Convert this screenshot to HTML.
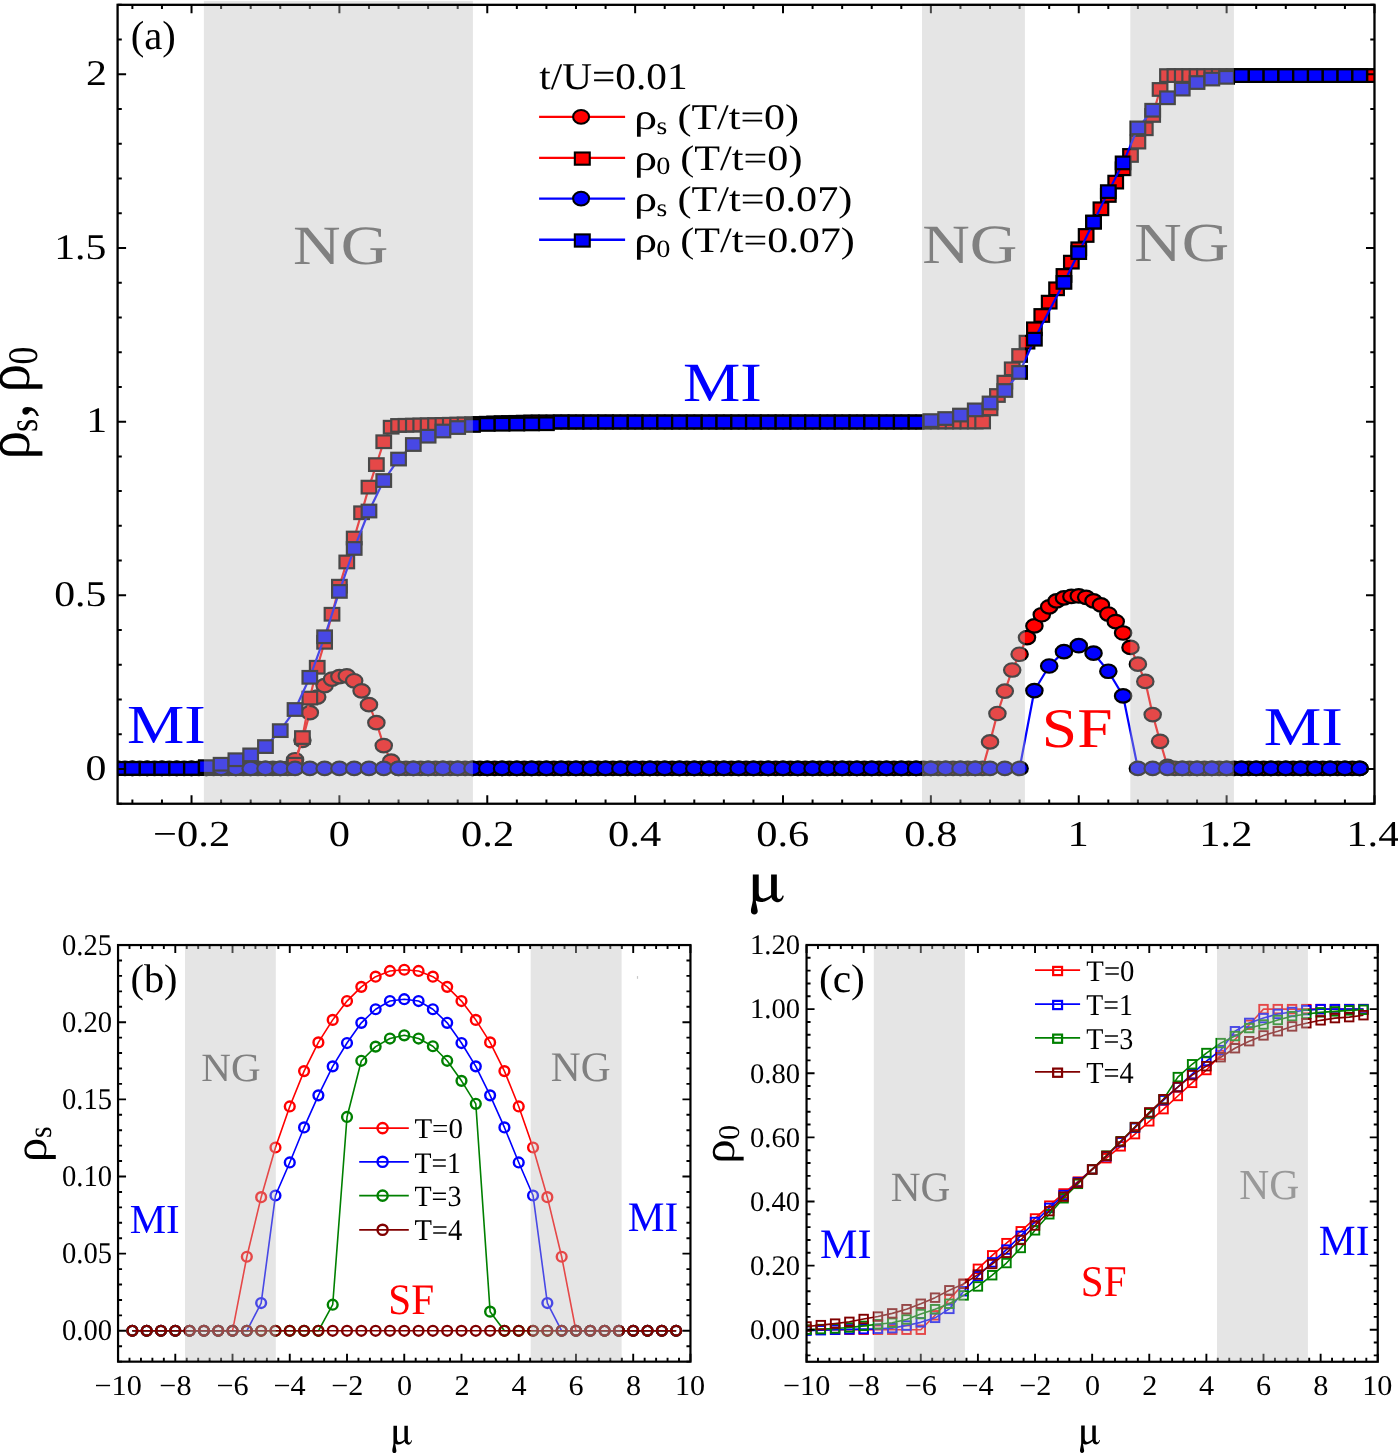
<!DOCTYPE html><html><head><meta charset="utf-8"><style>html,body{margin:0;padding:0;background:#fff;overflow:hidden}svg{display:block;will-change:transform}text{font-family:"Liberation Serif",serif;text-rendering:geometricPrecision}</style></head><body>
<svg width="1398" height="1453" viewBox="0 0 1398 1453">
<rect width="1398" height="1453" fill="#fff"/>
<defs>
<clipPath id="ca"><rect x="117.59" y="4.83" width="1256.89" height="798.91"/></clipPath>
<clipPath id="cb"><rect x="118.05" y="945.05" width="572.40" height="416.61"/></clipPath>
<clipPath id="cc"><rect x="806.55" y="945.00" width="571.20" height="416.78"/></clipPath>
</defs>
<g clip-path="url(#ca)">
<polyline points="117.59,768.40 124.99,768.40 132.38,768.40 139.78,768.40 147.17,768.40 154.56,768.40 161.96,768.40 169.35,768.40 176.74,768.40 184.14,768.40 191.53,768.40 198.92,768.40 206.32,768.40 213.71,768.40 221.10,768.40 228.50,768.40 235.89,768.40 243.28,768.40 250.68,768.40 258.07,768.40 265.46,768.40 272.86,768.40 280.25,768.40 287.65,768.40 295.04,759.74 302.43,740.34 309.83,712.63 317.22,697.04 324.61,685.61 332.01,679.03 339.40,676.60 346.79,675.91 354.19,680.76 361.58,690.81 368.97,704.66 376.37,722.68 383.76,745.54 391.15,761.13 398.55,768.40 405.94,768.40 413.33,768.40 420.73,768.40 428.12,768.40 435.52,768.40 442.91,768.40 450.30,768.40 457.70,768.40 465.09,768.40 472.48,768.40 479.88,768.40 487.27,768.40 494.66,768.40 502.06,768.40 509.45,768.40 516.84,768.40 524.24,768.40 531.63,768.40 539.02,768.40 546.42,768.40 553.81,768.40 561.20,768.40 568.60,768.40 575.99,768.40 583.39,768.40 590.78,768.40 598.17,768.40 605.57,768.40 612.96,768.40 620.35,768.40 627.75,768.40 635.14,768.40 642.53,768.40 649.93,768.40 657.32,768.40 664.71,768.40 672.11,768.40 679.50,768.40 686.89,768.40 694.29,768.40 701.68,768.40 709.08,768.40 716.47,768.40 723.86,768.40 731.26,768.40 738.65,768.40 746.04,768.40 753.44,768.40 760.83,768.40 768.22,768.40 775.62,768.40 783.01,768.40 790.40,768.40 797.80,768.40 805.19,768.40 812.58,768.40 819.98,768.40 827.37,768.40 834.76,768.40 842.16,768.40 849.55,768.40 856.94,768.40 864.34,768.40 871.73,768.40 879.13,768.40 886.52,768.40 893.91,768.40 901.31,768.40 908.70,768.40 916.09,768.40 923.49,768.40 930.88,768.40 938.27,768.40 945.67,768.40 953.06,768.40 960.45,768.40 967.85,768.40 975.24,768.40 982.63,768.40 990.03,741.90 997.42,713.50 1004.82,691.07 1012.21,670.01 1019.60,654.25 1027.00,637.56 1034.39,625.88 1041.78,614.74 1049.18,606.78 1056.57,600.93 1063.96,597.91 1071.36,596.41 1078.75,595.97 1086.14,597.28 1093.54,600.90 1100.93,604.90 1108.32,614.02 1115.72,621.53 1123.11,632.99 1130.50,647.44 1137.90,664.13 1145.29,681.45 1152.68,714.60 1160.08,741.29 1167.47,766.32 1174.87,768.40 1182.26,768.40 1189.65,768.40 1197.05,768.40 1204.44,768.40 1211.83,768.40 1219.23,768.40 1226.62,768.40 1234.01,768.40 1241.41,768.40 1248.80,768.40 1256.19,768.40 1263.59,768.40 1270.98,768.40 1278.37,768.40 1285.77,768.40 1293.16,768.40 1300.56,768.40 1307.95,768.40 1315.34,768.40 1322.74,768.40 1330.13,768.40 1337.52,768.40 1344.92,768.40 1352.31,768.40 1359.70,768.40" fill="none" stroke="#f00" stroke-width="2.2" stroke-linejoin="round"/>
<g fill="#f00" stroke="#000" stroke-width="2.2"><ellipse cx="117.59" cy="768.40" rx="8.2" ry="6.75"/><ellipse cx="124.99" cy="768.40" rx="8.2" ry="6.75"/><ellipse cx="132.38" cy="768.40" rx="8.2" ry="6.75"/><ellipse cx="139.78" cy="768.40" rx="8.2" ry="6.75"/><ellipse cx="147.17" cy="768.40" rx="8.2" ry="6.75"/><ellipse cx="154.56" cy="768.40" rx="8.2" ry="6.75"/><ellipse cx="161.96" cy="768.40" rx="8.2" ry="6.75"/><ellipse cx="169.35" cy="768.40" rx="8.2" ry="6.75"/><ellipse cx="176.74" cy="768.40" rx="8.2" ry="6.75"/><ellipse cx="184.14" cy="768.40" rx="8.2" ry="6.75"/><ellipse cx="191.53" cy="768.40" rx="8.2" ry="6.75"/><ellipse cx="198.92" cy="768.40" rx="8.2" ry="6.75"/><ellipse cx="206.32" cy="768.40" rx="8.2" ry="6.75"/><ellipse cx="213.71" cy="768.40" rx="8.2" ry="6.75"/><ellipse cx="221.10" cy="768.40" rx="8.2" ry="6.75"/><ellipse cx="228.50" cy="768.40" rx="8.2" ry="6.75"/><ellipse cx="235.89" cy="768.40" rx="8.2" ry="6.75"/><ellipse cx="243.28" cy="768.40" rx="8.2" ry="6.75"/><ellipse cx="250.68" cy="768.40" rx="8.2" ry="6.75"/><ellipse cx="258.07" cy="768.40" rx="8.2" ry="6.75"/><ellipse cx="265.46" cy="768.40" rx="8.2" ry="6.75"/><ellipse cx="272.86" cy="768.40" rx="8.2" ry="6.75"/><ellipse cx="280.25" cy="768.40" rx="8.2" ry="6.75"/><ellipse cx="287.65" cy="768.40" rx="8.2" ry="6.75"/><ellipse cx="295.04" cy="759.74" rx="8.2" ry="6.75"/><ellipse cx="302.43" cy="740.34" rx="8.2" ry="6.75"/><ellipse cx="309.83" cy="712.63" rx="8.2" ry="6.75"/><ellipse cx="317.22" cy="697.04" rx="8.2" ry="6.75"/><ellipse cx="324.61" cy="685.61" rx="8.2" ry="6.75"/><ellipse cx="332.01" cy="679.03" rx="8.2" ry="6.75"/><ellipse cx="339.40" cy="676.60" rx="8.2" ry="6.75"/><ellipse cx="346.79" cy="675.91" rx="8.2" ry="6.75"/><ellipse cx="354.19" cy="680.76" rx="8.2" ry="6.75"/><ellipse cx="361.58" cy="690.81" rx="8.2" ry="6.75"/><ellipse cx="368.97" cy="704.66" rx="8.2" ry="6.75"/><ellipse cx="376.37" cy="722.68" rx="8.2" ry="6.75"/><ellipse cx="383.76" cy="745.54" rx="8.2" ry="6.75"/><ellipse cx="391.15" cy="761.13" rx="8.2" ry="6.75"/><ellipse cx="398.55" cy="768.40" rx="8.2" ry="6.75"/><ellipse cx="405.94" cy="768.40" rx="8.2" ry="6.75"/><ellipse cx="413.33" cy="768.40" rx="8.2" ry="6.75"/><ellipse cx="420.73" cy="768.40" rx="8.2" ry="6.75"/><ellipse cx="428.12" cy="768.40" rx="8.2" ry="6.75"/><ellipse cx="435.52" cy="768.40" rx="8.2" ry="6.75"/><ellipse cx="442.91" cy="768.40" rx="8.2" ry="6.75"/><ellipse cx="450.30" cy="768.40" rx="8.2" ry="6.75"/><ellipse cx="457.70" cy="768.40" rx="8.2" ry="6.75"/><ellipse cx="465.09" cy="768.40" rx="8.2" ry="6.75"/><ellipse cx="472.48" cy="768.40" rx="8.2" ry="6.75"/><ellipse cx="479.88" cy="768.40" rx="8.2" ry="6.75"/><ellipse cx="487.27" cy="768.40" rx="8.2" ry="6.75"/><ellipse cx="494.66" cy="768.40" rx="8.2" ry="6.75"/><ellipse cx="502.06" cy="768.40" rx="8.2" ry="6.75"/><ellipse cx="509.45" cy="768.40" rx="8.2" ry="6.75"/><ellipse cx="516.84" cy="768.40" rx="8.2" ry="6.75"/><ellipse cx="524.24" cy="768.40" rx="8.2" ry="6.75"/><ellipse cx="531.63" cy="768.40" rx="8.2" ry="6.75"/><ellipse cx="539.02" cy="768.40" rx="8.2" ry="6.75"/><ellipse cx="546.42" cy="768.40" rx="8.2" ry="6.75"/><ellipse cx="553.81" cy="768.40" rx="8.2" ry="6.75"/><ellipse cx="561.20" cy="768.40" rx="8.2" ry="6.75"/><ellipse cx="568.60" cy="768.40" rx="8.2" ry="6.75"/><ellipse cx="575.99" cy="768.40" rx="8.2" ry="6.75"/><ellipse cx="583.39" cy="768.40" rx="8.2" ry="6.75"/><ellipse cx="590.78" cy="768.40" rx="8.2" ry="6.75"/><ellipse cx="598.17" cy="768.40" rx="8.2" ry="6.75"/><ellipse cx="605.57" cy="768.40" rx="8.2" ry="6.75"/><ellipse cx="612.96" cy="768.40" rx="8.2" ry="6.75"/><ellipse cx="620.35" cy="768.40" rx="8.2" ry="6.75"/><ellipse cx="627.75" cy="768.40" rx="8.2" ry="6.75"/><ellipse cx="635.14" cy="768.40" rx="8.2" ry="6.75"/><ellipse cx="642.53" cy="768.40" rx="8.2" ry="6.75"/><ellipse cx="649.93" cy="768.40" rx="8.2" ry="6.75"/><ellipse cx="657.32" cy="768.40" rx="8.2" ry="6.75"/><ellipse cx="664.71" cy="768.40" rx="8.2" ry="6.75"/><ellipse cx="672.11" cy="768.40" rx="8.2" ry="6.75"/><ellipse cx="679.50" cy="768.40" rx="8.2" ry="6.75"/><ellipse cx="686.89" cy="768.40" rx="8.2" ry="6.75"/><ellipse cx="694.29" cy="768.40" rx="8.2" ry="6.75"/><ellipse cx="701.68" cy="768.40" rx="8.2" ry="6.75"/><ellipse cx="709.08" cy="768.40" rx="8.2" ry="6.75"/><ellipse cx="716.47" cy="768.40" rx="8.2" ry="6.75"/><ellipse cx="723.86" cy="768.40" rx="8.2" ry="6.75"/><ellipse cx="731.26" cy="768.40" rx="8.2" ry="6.75"/><ellipse cx="738.65" cy="768.40" rx="8.2" ry="6.75"/><ellipse cx="746.04" cy="768.40" rx="8.2" ry="6.75"/><ellipse cx="753.44" cy="768.40" rx="8.2" ry="6.75"/><ellipse cx="760.83" cy="768.40" rx="8.2" ry="6.75"/><ellipse cx="768.22" cy="768.40" rx="8.2" ry="6.75"/><ellipse cx="775.62" cy="768.40" rx="8.2" ry="6.75"/><ellipse cx="783.01" cy="768.40" rx="8.2" ry="6.75"/><ellipse cx="790.40" cy="768.40" rx="8.2" ry="6.75"/><ellipse cx="797.80" cy="768.40" rx="8.2" ry="6.75"/><ellipse cx="805.19" cy="768.40" rx="8.2" ry="6.75"/><ellipse cx="812.58" cy="768.40" rx="8.2" ry="6.75"/><ellipse cx="819.98" cy="768.40" rx="8.2" ry="6.75"/><ellipse cx="827.37" cy="768.40" rx="8.2" ry="6.75"/><ellipse cx="834.76" cy="768.40" rx="8.2" ry="6.75"/><ellipse cx="842.16" cy="768.40" rx="8.2" ry="6.75"/><ellipse cx="849.55" cy="768.40" rx="8.2" ry="6.75"/><ellipse cx="856.94" cy="768.40" rx="8.2" ry="6.75"/><ellipse cx="864.34" cy="768.40" rx="8.2" ry="6.75"/><ellipse cx="871.73" cy="768.40" rx="8.2" ry="6.75"/><ellipse cx="879.13" cy="768.40" rx="8.2" ry="6.75"/><ellipse cx="886.52" cy="768.40" rx="8.2" ry="6.75"/><ellipse cx="893.91" cy="768.40" rx="8.2" ry="6.75"/><ellipse cx="901.31" cy="768.40" rx="8.2" ry="6.75"/><ellipse cx="908.70" cy="768.40" rx="8.2" ry="6.75"/><ellipse cx="916.09" cy="768.40" rx="8.2" ry="6.75"/><ellipse cx="923.49" cy="768.40" rx="8.2" ry="6.75"/><ellipse cx="930.88" cy="768.40" rx="8.2" ry="6.75"/><ellipse cx="938.27" cy="768.40" rx="8.2" ry="6.75"/><ellipse cx="945.67" cy="768.40" rx="8.2" ry="6.75"/><ellipse cx="953.06" cy="768.40" rx="8.2" ry="6.75"/><ellipse cx="960.45" cy="768.40" rx="8.2" ry="6.75"/><ellipse cx="967.85" cy="768.40" rx="8.2" ry="6.75"/><ellipse cx="975.24" cy="768.40" rx="8.2" ry="6.75"/><ellipse cx="982.63" cy="768.40" rx="8.2" ry="6.75"/><ellipse cx="990.03" cy="741.90" rx="8.2" ry="6.75"/><ellipse cx="997.42" cy="713.50" rx="8.2" ry="6.75"/><ellipse cx="1004.82" cy="691.07" rx="8.2" ry="6.75"/><ellipse cx="1012.21" cy="670.01" rx="8.2" ry="6.75"/><ellipse cx="1019.60" cy="654.25" rx="8.2" ry="6.75"/><ellipse cx="1027.00" cy="637.56" rx="8.2" ry="6.75"/><ellipse cx="1034.39" cy="625.88" rx="8.2" ry="6.75"/><ellipse cx="1041.78" cy="614.74" rx="8.2" ry="6.75"/><ellipse cx="1049.18" cy="606.78" rx="8.2" ry="6.75"/><ellipse cx="1056.57" cy="600.93" rx="8.2" ry="6.75"/><ellipse cx="1063.96" cy="597.91" rx="8.2" ry="6.75"/><ellipse cx="1071.36" cy="596.41" rx="8.2" ry="6.75"/><ellipse cx="1078.75" cy="595.97" rx="8.2" ry="6.75"/><ellipse cx="1086.14" cy="597.28" rx="8.2" ry="6.75"/><ellipse cx="1093.54" cy="600.90" rx="8.2" ry="6.75"/><ellipse cx="1100.93" cy="604.90" rx="8.2" ry="6.75"/><ellipse cx="1108.32" cy="614.02" rx="8.2" ry="6.75"/><ellipse cx="1115.72" cy="621.53" rx="8.2" ry="6.75"/><ellipse cx="1123.11" cy="632.99" rx="8.2" ry="6.75"/><ellipse cx="1130.50" cy="647.44" rx="8.2" ry="6.75"/><ellipse cx="1137.90" cy="664.13" rx="8.2" ry="6.75"/><ellipse cx="1145.29" cy="681.45" rx="8.2" ry="6.75"/><ellipse cx="1152.68" cy="714.60" rx="8.2" ry="6.75"/><ellipse cx="1160.08" cy="741.29" rx="8.2" ry="6.75"/><ellipse cx="1167.47" cy="766.32" rx="8.2" ry="6.75"/><ellipse cx="1174.87" cy="768.40" rx="8.2" ry="6.75"/><ellipse cx="1182.26" cy="768.40" rx="8.2" ry="6.75"/><ellipse cx="1189.65" cy="768.40" rx="8.2" ry="6.75"/><ellipse cx="1197.05" cy="768.40" rx="8.2" ry="6.75"/><ellipse cx="1204.44" cy="768.40" rx="8.2" ry="6.75"/><ellipse cx="1211.83" cy="768.40" rx="8.2" ry="6.75"/><ellipse cx="1219.23" cy="768.40" rx="8.2" ry="6.75"/><ellipse cx="1226.62" cy="768.40" rx="8.2" ry="6.75"/><ellipse cx="1234.01" cy="768.40" rx="8.2" ry="6.75"/><ellipse cx="1241.41" cy="768.40" rx="8.2" ry="6.75"/><ellipse cx="1248.80" cy="768.40" rx="8.2" ry="6.75"/><ellipse cx="1256.19" cy="768.40" rx="8.2" ry="6.75"/><ellipse cx="1263.59" cy="768.40" rx="8.2" ry="6.75"/><ellipse cx="1270.98" cy="768.40" rx="8.2" ry="6.75"/><ellipse cx="1278.37" cy="768.40" rx="8.2" ry="6.75"/><ellipse cx="1285.77" cy="768.40" rx="8.2" ry="6.75"/><ellipse cx="1293.16" cy="768.40" rx="8.2" ry="6.75"/><ellipse cx="1300.56" cy="768.40" rx="8.2" ry="6.75"/><ellipse cx="1307.95" cy="768.40" rx="8.2" ry="6.75"/><ellipse cx="1315.34" cy="768.40" rx="8.2" ry="6.75"/><ellipse cx="1322.74" cy="768.40" rx="8.2" ry="6.75"/><ellipse cx="1330.13" cy="768.40" rx="8.2" ry="6.75"/><ellipse cx="1337.52" cy="768.40" rx="8.2" ry="6.75"/><ellipse cx="1344.92" cy="768.40" rx="8.2" ry="6.75"/><ellipse cx="1352.31" cy="768.40" rx="8.2" ry="6.75"/><ellipse cx="1359.70" cy="768.40" rx="8.2" ry="6.75"/></g>
<polyline points="117.59,768.40 124.99,768.40 132.38,768.40 139.78,768.40 147.17,768.40 154.56,768.40 161.96,768.40 169.35,768.40 176.74,768.40 184.14,768.40 191.53,768.40 198.92,768.40 206.32,768.40 213.71,768.40 221.10,768.40 228.50,768.40 235.89,768.40 243.28,768.40 250.68,768.40 258.07,768.40 265.46,768.40 272.86,768.40 280.25,768.40 287.65,768.40 295.04,764.24 302.43,737.57 309.83,698.08 317.22,667.25 324.61,642.31 332.01,614.25 339.40,586.19 346.79,561.95 354.19,538.04 361.58,512.76 368.97,487.12 376.37,464.61 383.76,441.74 391.15,427.20 398.55,425.46 405.94,425.29 413.33,425.12 420.73,424.94 428.12,424.77 435.52,424.60 442.91,424.42 450.30,424.25 457.70,424.08 465.09,423.91 472.48,423.73 479.88,423.47 487.27,423.21 494.66,422.95 502.06,422.69 509.45,422.52 516.84,422.35 524.24,422.17 531.63,422.00 539.02,422.00 546.42,422.00 553.81,422.00 561.20,422.00 568.60,422.00 575.99,422.00 583.39,422.00 590.78,422.00 598.17,422.00 605.57,422.00 612.96,422.00 620.35,422.00 627.75,422.00 635.14,422.00 642.53,422.00 649.93,422.00 657.32,422.00 664.71,422.00 672.11,422.00 679.50,422.00 686.89,422.00 694.29,422.00 701.68,422.00 709.08,422.00 716.47,422.00 723.86,422.00 731.26,422.00 738.65,422.00 746.04,422.00 753.44,422.00 760.83,422.00 768.22,422.00 775.62,422.00 783.01,422.00 790.40,422.00 797.80,422.00 805.19,422.00 812.58,422.00 819.98,422.00 827.37,422.00 834.76,422.00 842.16,422.00 849.55,422.00 856.94,422.00 864.34,422.00 871.73,422.00 879.13,422.00 886.52,422.00 893.91,422.00 901.31,422.00 908.70,422.00 916.09,422.00 923.49,422.00 930.88,422.00 938.27,422.00 945.67,422.00 953.06,422.00 960.45,422.00 967.85,422.00 975.24,422.00 982.63,422.00 990.03,408.84 997.42,395.50 1004.82,382.16 1012.21,368.83 1019.60,355.49 1027.00,342.15 1034.39,328.82 1041.78,315.48 1049.18,302.15 1056.57,288.81 1063.96,275.47 1071.36,262.14 1078.75,248.80 1086.14,235.46 1093.54,222.13 1100.93,208.79 1108.32,195.45 1115.72,182.12 1123.11,168.78 1130.50,155.45 1137.90,142.11 1145.29,128.77 1152.68,115.44 1160.08,89.46 1167.47,75.60 1174.87,75.60 1182.26,75.60 1189.65,75.60 1197.05,75.60 1204.44,75.60 1211.83,75.60 1219.23,75.60 1226.62,75.60 1234.01,75.60 1241.41,75.60 1248.80,75.60 1256.19,75.60 1263.59,75.60 1270.98,75.60 1278.37,75.60 1285.77,75.60 1293.16,75.60 1300.56,75.60 1307.95,75.60 1315.34,75.60 1322.74,75.60 1330.13,75.60 1337.52,75.60 1344.92,75.60 1352.31,75.60 1359.70,75.60 1367.10,75.60 1374.49,75.60" fill="none" stroke="#f00" stroke-width="2.2" stroke-linejoin="round"/>
<g fill="#f00" stroke="#000" stroke-width="2.2"><rect x="110.29" y="762.10" width="14.6" height="12.6"/><rect x="117.69" y="762.10" width="14.6" height="12.6"/><rect x="125.08" y="762.10" width="14.6" height="12.6"/><rect x="132.48" y="762.10" width="14.6" height="12.6"/><rect x="139.87" y="762.10" width="14.6" height="12.6"/><rect x="147.26" y="762.10" width="14.6" height="12.6"/><rect x="154.66" y="762.10" width="14.6" height="12.6"/><rect x="162.05" y="762.10" width="14.6" height="12.6"/><rect x="169.44" y="762.10" width="14.6" height="12.6"/><rect x="176.84" y="762.10" width="14.6" height="12.6"/><rect x="184.23" y="762.10" width="14.6" height="12.6"/><rect x="191.62" y="762.10" width="14.6" height="12.6"/><rect x="199.02" y="762.10" width="14.6" height="12.6"/><rect x="206.41" y="762.10" width="14.6" height="12.6"/><rect x="213.80" y="762.10" width="14.6" height="12.6"/><rect x="221.20" y="762.10" width="14.6" height="12.6"/><rect x="228.59" y="762.10" width="14.6" height="12.6"/><rect x="235.98" y="762.10" width="14.6" height="12.6"/><rect x="243.38" y="762.10" width="14.6" height="12.6"/><rect x="250.77" y="762.10" width="14.6" height="12.6"/><rect x="258.16" y="762.10" width="14.6" height="12.6"/><rect x="265.56" y="762.10" width="14.6" height="12.6"/><rect x="272.95" y="762.10" width="14.6" height="12.6"/><rect x="280.35" y="762.10" width="14.6" height="12.6"/><rect x="287.74" y="757.94" width="14.6" height="12.6"/><rect x="295.13" y="731.27" width="14.6" height="12.6"/><rect x="302.53" y="691.78" width="14.6" height="12.6"/><rect x="309.92" y="660.95" width="14.6" height="12.6"/><rect x="317.31" y="636.01" width="14.6" height="12.6"/><rect x="324.71" y="607.95" width="14.6" height="12.6"/><rect x="332.10" y="579.89" width="14.6" height="12.6"/><rect x="339.49" y="555.65" width="14.6" height="12.6"/><rect x="346.89" y="531.74" width="14.6" height="12.6"/><rect x="354.28" y="506.46" width="14.6" height="12.6"/><rect x="361.67" y="480.82" width="14.6" height="12.6"/><rect x="369.07" y="458.31" width="14.6" height="12.6"/><rect x="376.46" y="435.44" width="14.6" height="12.6"/><rect x="383.85" y="420.90" width="14.6" height="12.6"/><rect x="391.25" y="419.16" width="14.6" height="12.6"/><rect x="398.64" y="418.99" width="14.6" height="12.6"/><rect x="406.03" y="418.82" width="14.6" height="12.6"/><rect x="413.43" y="418.64" width="14.6" height="12.6"/><rect x="420.82" y="418.47" width="14.6" height="12.6"/><rect x="428.22" y="418.30" width="14.6" height="12.6"/><rect x="435.61" y="418.12" width="14.6" height="12.6"/><rect x="443.00" y="417.95" width="14.6" height="12.6"/><rect x="450.40" y="417.78" width="14.6" height="12.6"/><rect x="457.79" y="417.61" width="14.6" height="12.6"/><rect x="465.18" y="417.43" width="14.6" height="12.6"/><rect x="472.58" y="417.17" width="14.6" height="12.6"/><rect x="479.97" y="416.91" width="14.6" height="12.6"/><rect x="487.36" y="416.65" width="14.6" height="12.6"/><rect x="494.76" y="416.39" width="14.6" height="12.6"/><rect x="502.15" y="416.22" width="14.6" height="12.6"/><rect x="509.54" y="416.05" width="14.6" height="12.6"/><rect x="516.94" y="415.87" width="14.6" height="12.6"/><rect x="524.33" y="415.70" width="14.6" height="12.6"/><rect x="531.72" y="415.70" width="14.6" height="12.6"/><rect x="539.12" y="415.70" width="14.6" height="12.6"/><rect x="546.51" y="415.70" width="14.6" height="12.6"/><rect x="553.90" y="415.70" width="14.6" height="12.6"/><rect x="561.30" y="415.70" width="14.6" height="12.6"/><rect x="568.69" y="415.70" width="14.6" height="12.6"/><rect x="576.09" y="415.70" width="14.6" height="12.6"/><rect x="583.48" y="415.70" width="14.6" height="12.6"/><rect x="590.87" y="415.70" width="14.6" height="12.6"/><rect x="598.27" y="415.70" width="14.6" height="12.6"/><rect x="605.66" y="415.70" width="14.6" height="12.6"/><rect x="613.05" y="415.70" width="14.6" height="12.6"/><rect x="620.45" y="415.70" width="14.6" height="12.6"/><rect x="627.84" y="415.70" width="14.6" height="12.6"/><rect x="635.23" y="415.70" width="14.6" height="12.6"/><rect x="642.63" y="415.70" width="14.6" height="12.6"/><rect x="650.02" y="415.70" width="14.6" height="12.6"/><rect x="657.41" y="415.70" width="14.6" height="12.6"/><rect x="664.81" y="415.70" width="14.6" height="12.6"/><rect x="672.20" y="415.70" width="14.6" height="12.6"/><rect x="679.59" y="415.70" width="14.6" height="12.6"/><rect x="686.99" y="415.70" width="14.6" height="12.6"/><rect x="694.38" y="415.70" width="14.6" height="12.6"/><rect x="701.78" y="415.70" width="14.6" height="12.6"/><rect x="709.17" y="415.70" width="14.6" height="12.6"/><rect x="716.56" y="415.70" width="14.6" height="12.6"/><rect x="723.96" y="415.70" width="14.6" height="12.6"/><rect x="731.35" y="415.70" width="14.6" height="12.6"/><rect x="738.74" y="415.70" width="14.6" height="12.6"/><rect x="746.14" y="415.70" width="14.6" height="12.6"/><rect x="753.53" y="415.70" width="14.6" height="12.6"/><rect x="760.92" y="415.70" width="14.6" height="12.6"/><rect x="768.32" y="415.70" width="14.6" height="12.6"/><rect x="775.71" y="415.70" width="14.6" height="12.6"/><rect x="783.10" y="415.70" width="14.6" height="12.6"/><rect x="790.50" y="415.70" width="14.6" height="12.6"/><rect x="797.89" y="415.70" width="14.6" height="12.6"/><rect x="805.28" y="415.70" width="14.6" height="12.6"/><rect x="812.68" y="415.70" width="14.6" height="12.6"/><rect x="820.07" y="415.70" width="14.6" height="12.6"/><rect x="827.46" y="415.70" width="14.6" height="12.6"/><rect x="834.86" y="415.70" width="14.6" height="12.6"/><rect x="842.25" y="415.70" width="14.6" height="12.6"/><rect x="849.64" y="415.70" width="14.6" height="12.6"/><rect x="857.04" y="415.70" width="14.6" height="12.6"/><rect x="864.43" y="415.70" width="14.6" height="12.6"/><rect x="871.83" y="415.70" width="14.6" height="12.6"/><rect x="879.22" y="415.70" width="14.6" height="12.6"/><rect x="886.61" y="415.70" width="14.6" height="12.6"/><rect x="894.01" y="415.70" width="14.6" height="12.6"/><rect x="901.40" y="415.70" width="14.6" height="12.6"/><rect x="908.79" y="415.70" width="14.6" height="12.6"/><rect x="916.19" y="415.70" width="14.6" height="12.6"/><rect x="923.58" y="415.70" width="14.6" height="12.6"/><rect x="930.97" y="415.70" width="14.6" height="12.6"/><rect x="938.37" y="415.70" width="14.6" height="12.6"/><rect x="945.76" y="415.70" width="14.6" height="12.6"/><rect x="953.15" y="415.70" width="14.6" height="12.6"/><rect x="960.55" y="415.70" width="14.6" height="12.6"/><rect x="967.94" y="415.70" width="14.6" height="12.6"/><rect x="975.33" y="415.70" width="14.6" height="12.6"/><rect x="982.73" y="402.54" width="14.6" height="12.6"/><rect x="990.12" y="389.20" width="14.6" height="12.6"/><rect x="997.52" y="375.86" width="14.6" height="12.6"/><rect x="1004.91" y="362.53" width="14.6" height="12.6"/><rect x="1012.30" y="349.19" width="14.6" height="12.6"/><rect x="1019.70" y="335.85" width="14.6" height="12.6"/><rect x="1027.09" y="322.52" width="14.6" height="12.6"/><rect x="1034.48" y="309.18" width="14.6" height="12.6"/><rect x="1041.88" y="295.85" width="14.6" height="12.6"/><rect x="1049.27" y="282.51" width="14.6" height="12.6"/><rect x="1056.66" y="269.17" width="14.6" height="12.6"/><rect x="1064.06" y="255.84" width="14.6" height="12.6"/><rect x="1071.45" y="242.50" width="14.6" height="12.6"/><rect x="1078.84" y="229.16" width="14.6" height="12.6"/><rect x="1086.24" y="215.83" width="14.6" height="12.6"/><rect x="1093.63" y="202.49" width="14.6" height="12.6"/><rect x="1101.02" y="189.15" width="14.6" height="12.6"/><rect x="1108.42" y="175.82" width="14.6" height="12.6"/><rect x="1115.81" y="162.48" width="14.6" height="12.6"/><rect x="1123.20" y="149.15" width="14.6" height="12.6"/><rect x="1130.60" y="135.81" width="14.6" height="12.6"/><rect x="1137.99" y="122.47" width="14.6" height="12.6"/><rect x="1145.38" y="109.14" width="14.6" height="12.6"/><rect x="1152.78" y="83.16" width="14.6" height="12.6"/><rect x="1160.17" y="69.30" width="14.6" height="12.6"/><rect x="1167.57" y="69.30" width="14.6" height="12.6"/><rect x="1174.96" y="69.30" width="14.6" height="12.6"/><rect x="1182.35" y="69.30" width="14.6" height="12.6"/><rect x="1189.75" y="69.30" width="14.6" height="12.6"/><rect x="1197.14" y="69.30" width="14.6" height="12.6"/><rect x="1204.53" y="69.30" width="14.6" height="12.6"/><rect x="1211.93" y="69.30" width="14.6" height="12.6"/><rect x="1219.32" y="69.30" width="14.6" height="12.6"/><rect x="1226.71" y="69.30" width="14.6" height="12.6"/><rect x="1234.11" y="69.30" width="14.6" height="12.6"/><rect x="1241.50" y="69.30" width="14.6" height="12.6"/><rect x="1248.89" y="69.30" width="14.6" height="12.6"/><rect x="1256.29" y="69.30" width="14.6" height="12.6"/><rect x="1263.68" y="69.30" width="14.6" height="12.6"/><rect x="1271.07" y="69.30" width="14.6" height="12.6"/><rect x="1278.47" y="69.30" width="14.6" height="12.6"/><rect x="1285.86" y="69.30" width="14.6" height="12.6"/><rect x="1293.26" y="69.30" width="14.6" height="12.6"/><rect x="1300.65" y="69.30" width="14.6" height="12.6"/><rect x="1308.04" y="69.30" width="14.6" height="12.6"/><rect x="1315.44" y="69.30" width="14.6" height="12.6"/><rect x="1322.83" y="69.30" width="14.6" height="12.6"/><rect x="1330.22" y="69.30" width="14.6" height="12.6"/><rect x="1337.62" y="69.30" width="14.6" height="12.6"/><rect x="1345.01" y="69.30" width="14.6" height="12.6"/><rect x="1352.40" y="69.30" width="14.6" height="12.6"/><rect x="1359.80" y="69.30" width="14.6" height="12.6"/><rect x="1367.19" y="69.30" width="14.6" height="12.6"/></g>
<polyline points="117.59,768.40 132.38,768.40 147.17,768.40 161.96,768.40 176.74,768.40 191.53,768.40 206.32,768.40 221.10,768.40 235.89,768.40 250.68,768.40 265.46,768.40 280.25,768.40 295.04,768.40 309.83,768.40 324.61,768.40 339.40,768.40 354.19,768.40 368.97,768.40 383.76,768.40 398.55,768.40 413.33,768.40 428.12,768.40 442.91,768.40 457.70,768.40 472.48,768.40 487.27,768.40 502.06,768.40 516.84,768.40 531.63,768.40 546.42,768.40 561.20,768.40 575.99,768.40 590.78,768.40 605.57,768.40 620.35,768.40 635.14,768.40 649.93,768.40 664.71,768.40 679.50,768.40 694.29,768.40 709.08,768.40 723.86,768.40 738.65,768.40 753.44,768.40 768.22,768.40 783.01,768.40 797.80,768.40 812.58,768.40 827.37,768.40 842.16,768.40 856.94,768.40 871.73,768.40 886.52,768.40 901.31,768.40 916.09,768.40 930.88,768.40 945.67,768.40 960.45,768.40 975.24,768.40 990.03,768.40 1004.82,768.40 1019.60,768.40 1034.39,690.53 1049.18,666.00 1063.96,651.66 1078.75,645.71 1093.54,653.15 1108.32,671.27 1123.11,695.93 1137.90,768.40 1152.68,768.40 1167.47,768.40 1182.26,768.40 1197.05,768.40 1211.83,768.40 1226.62,768.40 1241.41,768.40 1256.19,768.40 1270.98,768.40 1285.77,768.40 1300.56,768.40 1315.34,768.40 1330.13,768.40 1344.92,768.40 1359.70,768.40" fill="none" stroke="#00f" stroke-width="2.2" stroke-linejoin="round"/>
<g fill="#00f" stroke="#000" stroke-width="2.2"><ellipse cx="117.59" cy="768.40" rx="8.2" ry="6.75"/><ellipse cx="132.38" cy="768.40" rx="8.2" ry="6.75"/><ellipse cx="147.17" cy="768.40" rx="8.2" ry="6.75"/><ellipse cx="161.96" cy="768.40" rx="8.2" ry="6.75"/><ellipse cx="176.74" cy="768.40" rx="8.2" ry="6.75"/><ellipse cx="191.53" cy="768.40" rx="8.2" ry="6.75"/><ellipse cx="206.32" cy="768.40" rx="8.2" ry="6.75"/><ellipse cx="221.10" cy="768.40" rx="8.2" ry="6.75"/><ellipse cx="235.89" cy="768.40" rx="8.2" ry="6.75"/><ellipse cx="250.68" cy="768.40" rx="8.2" ry="6.75"/><ellipse cx="265.46" cy="768.40" rx="8.2" ry="6.75"/><ellipse cx="280.25" cy="768.40" rx="8.2" ry="6.75"/><ellipse cx="295.04" cy="768.40" rx="8.2" ry="6.75"/><ellipse cx="309.83" cy="768.40" rx="8.2" ry="6.75"/><ellipse cx="324.61" cy="768.40" rx="8.2" ry="6.75"/><ellipse cx="339.40" cy="768.40" rx="8.2" ry="6.75"/><ellipse cx="354.19" cy="768.40" rx="8.2" ry="6.75"/><ellipse cx="368.97" cy="768.40" rx="8.2" ry="6.75"/><ellipse cx="383.76" cy="768.40" rx="8.2" ry="6.75"/><ellipse cx="398.55" cy="768.40" rx="8.2" ry="6.75"/><ellipse cx="413.33" cy="768.40" rx="8.2" ry="6.75"/><ellipse cx="428.12" cy="768.40" rx="8.2" ry="6.75"/><ellipse cx="442.91" cy="768.40" rx="8.2" ry="6.75"/><ellipse cx="457.70" cy="768.40" rx="8.2" ry="6.75"/><ellipse cx="472.48" cy="768.40" rx="8.2" ry="6.75"/><ellipse cx="487.27" cy="768.40" rx="8.2" ry="6.75"/><ellipse cx="502.06" cy="768.40" rx="8.2" ry="6.75"/><ellipse cx="516.84" cy="768.40" rx="8.2" ry="6.75"/><ellipse cx="531.63" cy="768.40" rx="8.2" ry="6.75"/><ellipse cx="546.42" cy="768.40" rx="8.2" ry="6.75"/><ellipse cx="561.20" cy="768.40" rx="8.2" ry="6.75"/><ellipse cx="575.99" cy="768.40" rx="8.2" ry="6.75"/><ellipse cx="590.78" cy="768.40" rx="8.2" ry="6.75"/><ellipse cx="605.57" cy="768.40" rx="8.2" ry="6.75"/><ellipse cx="620.35" cy="768.40" rx="8.2" ry="6.75"/><ellipse cx="635.14" cy="768.40" rx="8.2" ry="6.75"/><ellipse cx="649.93" cy="768.40" rx="8.2" ry="6.75"/><ellipse cx="664.71" cy="768.40" rx="8.2" ry="6.75"/><ellipse cx="679.50" cy="768.40" rx="8.2" ry="6.75"/><ellipse cx="694.29" cy="768.40" rx="8.2" ry="6.75"/><ellipse cx="709.08" cy="768.40" rx="8.2" ry="6.75"/><ellipse cx="723.86" cy="768.40" rx="8.2" ry="6.75"/><ellipse cx="738.65" cy="768.40" rx="8.2" ry="6.75"/><ellipse cx="753.44" cy="768.40" rx="8.2" ry="6.75"/><ellipse cx="768.22" cy="768.40" rx="8.2" ry="6.75"/><ellipse cx="783.01" cy="768.40" rx="8.2" ry="6.75"/><ellipse cx="797.80" cy="768.40" rx="8.2" ry="6.75"/><ellipse cx="812.58" cy="768.40" rx="8.2" ry="6.75"/><ellipse cx="827.37" cy="768.40" rx="8.2" ry="6.75"/><ellipse cx="842.16" cy="768.40" rx="8.2" ry="6.75"/><ellipse cx="856.94" cy="768.40" rx="8.2" ry="6.75"/><ellipse cx="871.73" cy="768.40" rx="8.2" ry="6.75"/><ellipse cx="886.52" cy="768.40" rx="8.2" ry="6.75"/><ellipse cx="901.31" cy="768.40" rx="8.2" ry="6.75"/><ellipse cx="916.09" cy="768.40" rx="8.2" ry="6.75"/><ellipse cx="930.88" cy="768.40" rx="8.2" ry="6.75"/><ellipse cx="945.67" cy="768.40" rx="8.2" ry="6.75"/><ellipse cx="960.45" cy="768.40" rx="8.2" ry="6.75"/><ellipse cx="975.24" cy="768.40" rx="8.2" ry="6.75"/><ellipse cx="990.03" cy="768.40" rx="8.2" ry="6.75"/><ellipse cx="1004.82" cy="768.40" rx="8.2" ry="6.75"/><ellipse cx="1019.60" cy="768.40" rx="8.2" ry="6.75"/><ellipse cx="1034.39" cy="690.53" rx="8.2" ry="6.75"/><ellipse cx="1049.18" cy="666.00" rx="8.2" ry="6.75"/><ellipse cx="1063.96" cy="651.66" rx="8.2" ry="6.75"/><ellipse cx="1078.75" cy="645.71" rx="8.2" ry="6.75"/><ellipse cx="1093.54" cy="653.15" rx="8.2" ry="6.75"/><ellipse cx="1108.32" cy="671.27" rx="8.2" ry="6.75"/><ellipse cx="1123.11" cy="695.93" rx="8.2" ry="6.75"/><ellipse cx="1137.90" cy="768.40" rx="8.2" ry="6.75"/><ellipse cx="1152.68" cy="768.40" rx="8.2" ry="6.75"/><ellipse cx="1167.47" cy="768.40" rx="8.2" ry="6.75"/><ellipse cx="1182.26" cy="768.40" rx="8.2" ry="6.75"/><ellipse cx="1197.05" cy="768.40" rx="8.2" ry="6.75"/><ellipse cx="1211.83" cy="768.40" rx="8.2" ry="6.75"/><ellipse cx="1226.62" cy="768.40" rx="8.2" ry="6.75"/><ellipse cx="1241.41" cy="768.40" rx="8.2" ry="6.75"/><ellipse cx="1256.19" cy="768.40" rx="8.2" ry="6.75"/><ellipse cx="1270.98" cy="768.40" rx="8.2" ry="6.75"/><ellipse cx="1285.77" cy="768.40" rx="8.2" ry="6.75"/><ellipse cx="1300.56" cy="768.40" rx="8.2" ry="6.75"/><ellipse cx="1315.34" cy="768.40" rx="8.2" ry="6.75"/><ellipse cx="1330.13" cy="768.40" rx="8.2" ry="6.75"/><ellipse cx="1344.92" cy="768.40" rx="8.2" ry="6.75"/><ellipse cx="1359.70" cy="768.40" rx="8.2" ry="6.75"/></g>
<polyline points="117.59,768.40 132.38,768.40 147.17,768.40 161.96,768.40 176.74,768.40 191.53,768.40 206.32,766.67 221.10,764.24 235.89,759.74 250.68,754.89 265.46,746.58 280.25,730.64 295.04,709.51 309.83,677.30 324.61,636.77 339.40,591.39 354.19,548.44 368.97,511.02 383.76,480.54 398.55,459.06 413.33,444.52 428.12,436.20 442.91,431.01 457.70,427.54 472.48,425.46 487.27,424.42 502.06,424.25 516.84,424.08 531.63,423.91 546.42,423.73 561.20,422.00 575.99,422.00 590.78,422.00 605.57,422.00 620.35,422.00 635.14,422.00 649.93,422.00 664.71,422.00 679.50,422.00 694.29,422.00 709.08,422.00 723.86,422.00 738.65,422.00 753.44,422.00 768.22,422.00 783.01,422.00 797.80,422.00 812.58,422.00 827.37,422.00 842.16,422.00 856.94,422.00 871.73,422.00 886.52,422.00 901.31,422.00 916.09,422.00 930.88,420.61 945.67,418.54 960.45,415.07 975.24,409.88 990.03,402.95 1004.82,390.48 1019.60,372.46 1034.39,339.21 1063.96,282.40 1078.75,252.61 1093.54,222.13 1108.32,191.64 1123.11,162.89 1137.90,127.91 1152.68,110.24 1167.47,97.77 1182.26,89.11 1197.05,82.53 1211.83,79.06 1226.62,77.33 1241.41,75.60 1256.19,75.60 1270.98,75.60 1285.77,75.60 1300.56,75.60 1315.34,75.60 1330.13,75.60 1344.92,75.60 1359.70,75.60" fill="none" stroke="#00f" stroke-width="2.2" stroke-linejoin="round"/>
<g fill="#00f" stroke="#000" stroke-width="2.2"><rect x="110.29" y="762.10" width="14.6" height="12.6"/><rect x="125.08" y="762.10" width="14.6" height="12.6"/><rect x="139.87" y="762.10" width="14.6" height="12.6"/><rect x="154.66" y="762.10" width="14.6" height="12.6"/><rect x="169.44" y="762.10" width="14.6" height="12.6"/><rect x="184.23" y="762.10" width="14.6" height="12.6"/><rect x="199.02" y="760.37" width="14.6" height="12.6"/><rect x="213.80" y="757.94" width="14.6" height="12.6"/><rect x="228.59" y="753.44" width="14.6" height="12.6"/><rect x="243.38" y="748.59" width="14.6" height="12.6"/><rect x="258.16" y="740.28" width="14.6" height="12.6"/><rect x="272.95" y="724.34" width="14.6" height="12.6"/><rect x="287.74" y="703.21" width="14.6" height="12.6"/><rect x="302.53" y="671.00" width="14.6" height="12.6"/><rect x="317.31" y="630.47" width="14.6" height="12.6"/><rect x="332.10" y="585.09" width="14.6" height="12.6"/><rect x="346.89" y="542.14" width="14.6" height="12.6"/><rect x="361.67" y="504.72" width="14.6" height="12.6"/><rect x="376.46" y="474.24" width="14.6" height="12.6"/><rect x="391.25" y="452.76" width="14.6" height="12.6"/><rect x="406.03" y="438.22" width="14.6" height="12.6"/><rect x="420.82" y="429.90" width="14.6" height="12.6"/><rect x="435.61" y="424.71" width="14.6" height="12.6"/><rect x="450.40" y="421.24" width="14.6" height="12.6"/><rect x="465.18" y="419.16" width="14.6" height="12.6"/><rect x="479.97" y="418.12" width="14.6" height="12.6"/><rect x="494.76" y="417.95" width="14.6" height="12.6"/><rect x="509.54" y="417.78" width="14.6" height="12.6"/><rect x="524.33" y="417.61" width="14.6" height="12.6"/><rect x="539.12" y="417.43" width="14.6" height="12.6"/><rect x="553.90" y="415.70" width="14.6" height="12.6"/><rect x="568.69" y="415.70" width="14.6" height="12.6"/><rect x="583.48" y="415.70" width="14.6" height="12.6"/><rect x="598.27" y="415.70" width="14.6" height="12.6"/><rect x="613.05" y="415.70" width="14.6" height="12.6"/><rect x="627.84" y="415.70" width="14.6" height="12.6"/><rect x="642.63" y="415.70" width="14.6" height="12.6"/><rect x="657.41" y="415.70" width="14.6" height="12.6"/><rect x="672.20" y="415.70" width="14.6" height="12.6"/><rect x="686.99" y="415.70" width="14.6" height="12.6"/><rect x="701.78" y="415.70" width="14.6" height="12.6"/><rect x="716.56" y="415.70" width="14.6" height="12.6"/><rect x="731.35" y="415.70" width="14.6" height="12.6"/><rect x="746.14" y="415.70" width="14.6" height="12.6"/><rect x="760.92" y="415.70" width="14.6" height="12.6"/><rect x="775.71" y="415.70" width="14.6" height="12.6"/><rect x="790.50" y="415.70" width="14.6" height="12.6"/><rect x="805.28" y="415.70" width="14.6" height="12.6"/><rect x="820.07" y="415.70" width="14.6" height="12.6"/><rect x="834.86" y="415.70" width="14.6" height="12.6"/><rect x="849.64" y="415.70" width="14.6" height="12.6"/><rect x="864.43" y="415.70" width="14.6" height="12.6"/><rect x="879.22" y="415.70" width="14.6" height="12.6"/><rect x="894.01" y="415.70" width="14.6" height="12.6"/><rect x="908.79" y="415.70" width="14.6" height="12.6"/><rect x="923.58" y="414.31" width="14.6" height="12.6"/><rect x="938.37" y="412.24" width="14.6" height="12.6"/><rect x="953.15" y="408.77" width="14.6" height="12.6"/><rect x="967.94" y="403.58" width="14.6" height="12.6"/><rect x="982.73" y="396.65" width="14.6" height="12.6"/><rect x="997.52" y="384.18" width="14.6" height="12.6"/><rect x="1012.30" y="366.16" width="14.6" height="12.6"/><rect x="1027.09" y="332.91" width="14.6" height="12.6"/><rect x="1056.66" y="276.10" width="14.6" height="12.6"/><rect x="1071.45" y="246.31" width="14.6" height="12.6"/><rect x="1086.24" y="215.83" width="14.6" height="12.6"/><rect x="1101.02" y="185.34" width="14.6" height="12.6"/><rect x="1115.81" y="156.59" width="14.6" height="12.6"/><rect x="1130.60" y="121.61" width="14.6" height="12.6"/><rect x="1145.38" y="103.94" width="14.6" height="12.6"/><rect x="1160.17" y="91.47" width="14.6" height="12.6"/><rect x="1174.96" y="82.81" width="14.6" height="12.6"/><rect x="1189.75" y="76.23" width="14.6" height="12.6"/><rect x="1204.53" y="72.76" width="14.6" height="12.6"/><rect x="1219.32" y="71.03" width="14.6" height="12.6"/><rect x="1234.11" y="69.30" width="14.6" height="12.6"/><rect x="1248.89" y="69.30" width="14.6" height="12.6"/><rect x="1263.68" y="69.30" width="14.6" height="12.6"/><rect x="1278.47" y="69.30" width="14.6" height="12.6"/><rect x="1293.26" y="69.30" width="14.6" height="12.6"/><rect x="1308.04" y="69.30" width="14.6" height="12.6"/><rect x="1322.83" y="69.30" width="14.6" height="12.6"/><rect x="1337.62" y="69.30" width="14.6" height="12.6"/><rect x="1352.40" y="69.30" width="14.6" height="12.6"/></g>
</g>
<path d="M132.38 803.74v-4.2M132.38 4.83v4.2M161.96 803.74v-4.2M161.96 4.83v4.2M191.53 803.74v-8.5M191.53 4.83v8.5M221.10 803.74v-4.2M221.10 4.83v4.2M250.68 803.74v-4.2M250.68 4.83v4.2M280.25 803.74v-4.2M280.25 4.83v4.2M309.83 803.74v-4.2M309.83 4.83v4.2M339.40 803.74v-8.5M339.40 4.83v8.5M368.97 803.74v-4.2M368.97 4.83v4.2M398.55 803.74v-4.2M398.55 4.83v4.2M428.12 803.74v-4.2M428.12 4.83v4.2M457.70 803.74v-4.2M457.70 4.83v4.2M487.27 803.74v-8.5M487.27 4.83v8.5M516.84 803.74v-4.2M516.84 4.83v4.2M546.42 803.74v-4.2M546.42 4.83v4.2M575.99 803.74v-4.2M575.99 4.83v4.2M605.57 803.74v-4.2M605.57 4.83v4.2M635.14 803.74v-8.5M635.14 4.83v8.5M664.71 803.74v-4.2M664.71 4.83v4.2M694.29 803.74v-4.2M694.29 4.83v4.2M723.86 803.74v-4.2M723.86 4.83v4.2M753.44 803.74v-4.2M753.44 4.83v4.2M783.01 803.74v-8.5M783.01 4.83v8.5M812.58 803.74v-4.2M812.58 4.83v4.2M842.16 803.74v-4.2M842.16 4.83v4.2M871.73 803.74v-4.2M871.73 4.83v4.2M901.31 803.74v-4.2M901.31 4.83v4.2M930.88 803.74v-8.5M930.88 4.83v8.5M960.45 803.74v-4.2M960.45 4.83v4.2M990.03 803.74v-4.2M990.03 4.83v4.2M1019.60 803.74v-4.2M1019.60 4.83v4.2M1049.18 803.74v-4.2M1049.18 4.83v4.2M1078.75 803.74v-8.5M1078.75 4.83v8.5M1108.32 803.74v-4.2M1108.32 4.83v4.2M1137.90 803.74v-4.2M1137.90 4.83v4.2M1167.47 803.74v-4.2M1167.47 4.83v4.2M1197.05 803.74v-4.2M1197.05 4.83v4.2M1226.62 803.74v-8.5M1226.62 4.83v8.5M1256.19 803.74v-4.2M1256.19 4.83v4.2M1285.77 803.74v-4.2M1285.77 4.83v4.2M1315.34 803.74v-4.2M1315.34 4.83v4.2M1344.92 803.74v-4.2M1344.92 4.83v4.2M1374.49 803.74v-8.5M1374.49 4.83v8.5M117.59 803.74h4.2M1374.49 803.74h-4.2M117.59 769.00h8.5M1374.49 769.00h-8.5M117.59 734.26h4.2M1374.49 734.26h-4.2M117.59 699.53h4.2M1374.49 699.53h-4.2M117.59 664.79h4.2M1374.49 664.79h-4.2M117.59 630.06h4.2M1374.49 630.06h-4.2M117.59 595.33h8.5M1374.49 595.33h-8.5M117.59 560.59h4.2M1374.49 560.59h-4.2M117.59 525.86h4.2M1374.49 525.86h-4.2M117.59 491.12h4.2M1374.49 491.12h-4.2M117.59 456.38h4.2M1374.49 456.38h-4.2M117.59 421.65h8.5M1374.49 421.65h-8.5M117.59 386.91h4.2M1374.49 386.91h-4.2M117.59 352.18h4.2M1374.49 352.18h-4.2M117.59 317.44h4.2M1374.49 317.44h-4.2M117.59 282.71h4.2M1374.49 282.71h-4.2M117.59 247.97h8.5M1374.49 247.97h-8.5M117.59 213.24h4.2M1374.49 213.24h-4.2M117.59 178.50h4.2M1374.49 178.50h-4.2M117.59 143.77h4.2M1374.49 143.77h-4.2M117.59 109.03h4.2M1374.49 109.03h-4.2M117.59 74.30h8.5M1374.49 74.30h-8.5M117.59 39.56h4.2M1374.49 39.56h-4.2M117.59 4.83h4.2M1374.49 4.83h-4.2" stroke="#000" stroke-width="2" fill="none"/>
<rect x="203.9" y="0.9" width="269.00" height="801.63" fill="rgba(188,188,188,0.384)"/>
<rect x="922.0" y="3.2" width="102.90" height="799.33" fill="rgba(188,188,188,0.384)"/>
<rect x="1130.3" y="3.2" width="103.60" height="799.33" fill="rgba(188,188,188,0.384)"/>
<rect x="117.59" y="4.83" width="1256.89" height="798.91" fill="none" stroke="#000" stroke-width="2.3"/>
<g clip-path="url(#cb)">
<polyline points="132.36,1330.80 146.67,1330.80 160.98,1330.80 175.29,1330.80 189.60,1330.80 203.91,1330.80 218.22,1330.80 232.53,1330.80 246.84,1256.74 261.15,1197.18 275.46,1147.49 289.77,1106.45 304.08,1071.11 318.39,1042.41 332.70,1019.89 347.01,1001.06 361.32,986.87 375.63,976.68 389.94,970.97 404.25,969.74 418.56,970.97 432.87,976.68 447.18,986.87 461.49,1001.06 475.80,1019.89 490.11,1042.41 504.42,1071.11 518.73,1106.45 533.04,1147.49 547.35,1197.18 561.66,1256.74 575.97,1330.80 590.28,1330.80 604.59,1330.80 618.90,1330.80 633.21,1330.80 647.52,1330.80 661.83,1330.80 676.14,1330.80" fill="none" stroke="#f00" stroke-width="1.6" stroke-linejoin="round"/>
<g fill="none" stroke="#f00" stroke-width="2.4"><circle cx="132.36" cy="1330.80" r="4.9"/><circle cx="146.67" cy="1330.80" r="4.9"/><circle cx="160.98" cy="1330.80" r="4.9"/><circle cx="175.29" cy="1330.80" r="4.9"/><circle cx="189.60" cy="1330.80" r="4.9"/><circle cx="203.91" cy="1330.80" r="4.9"/><circle cx="218.22" cy="1330.80" r="4.9"/><circle cx="232.53" cy="1330.80" r="4.9"/><circle cx="246.84" cy="1256.74" r="4.9"/><circle cx="261.15" cy="1197.18" r="4.9"/><circle cx="275.46" cy="1147.49" r="4.9"/><circle cx="289.77" cy="1106.45" r="4.9"/><circle cx="304.08" cy="1071.11" r="4.9"/><circle cx="318.39" cy="1042.41" r="4.9"/><circle cx="332.70" cy="1019.89" r="4.9"/><circle cx="347.01" cy="1001.06" r="4.9"/><circle cx="361.32" cy="986.87" r="4.9"/><circle cx="375.63" cy="976.68" r="4.9"/><circle cx="389.94" cy="970.97" r="4.9"/><circle cx="404.25" cy="969.74" r="4.9"/><circle cx="418.56" cy="970.97" r="4.9"/><circle cx="432.87" cy="976.68" r="4.9"/><circle cx="447.18" cy="986.87" r="4.9"/><circle cx="461.49" cy="1001.06" r="4.9"/><circle cx="475.80" cy="1019.89" r="4.9"/><circle cx="490.11" cy="1042.41" r="4.9"/><circle cx="504.42" cy="1071.11" r="4.9"/><circle cx="518.73" cy="1106.45" r="4.9"/><circle cx="533.04" cy="1147.49" r="4.9"/><circle cx="547.35" cy="1197.18" r="4.9"/><circle cx="561.66" cy="1256.74" r="4.9"/><circle cx="575.97" cy="1330.80" r="4.9"/><circle cx="590.28" cy="1330.80" r="4.9"/><circle cx="604.59" cy="1330.80" r="4.9"/><circle cx="618.90" cy="1330.80" r="4.9"/><circle cx="633.21" cy="1330.80" r="4.9"/><circle cx="647.52" cy="1330.80" r="4.9"/><circle cx="661.83" cy="1330.80" r="4.9"/><circle cx="676.14" cy="1330.80" r="4.9"/></g>
<polyline points="132.36,1330.80 146.67,1330.80 160.98,1330.80 175.29,1330.80 189.60,1330.80 203.91,1330.80 218.22,1330.80 232.53,1330.80 246.84,1330.80 261.15,1303.03 275.46,1195.48 289.77,1162.46 304.08,1127.43 318.39,1095.34 332.70,1066.33 347.01,1043.03 361.32,1022.82 375.63,1009.24 389.94,1001.06 404.25,999.21 418.56,1001.06 432.87,1009.24 447.18,1022.82 461.49,1043.03 475.80,1066.33 490.11,1095.34 504.42,1127.43 518.73,1162.46 533.04,1195.48 547.35,1303.03 561.66,1330.80 575.97,1330.80 590.28,1330.80 604.59,1330.80 618.90,1330.80 633.21,1330.80 647.52,1330.80 661.83,1330.80 676.14,1330.80" fill="none" stroke="#00f" stroke-width="1.6" stroke-linejoin="round"/>
<g fill="none" stroke="#00f" stroke-width="2.4"><circle cx="132.36" cy="1330.80" r="4.9"/><circle cx="146.67" cy="1330.80" r="4.9"/><circle cx="160.98" cy="1330.80" r="4.9"/><circle cx="175.29" cy="1330.80" r="4.9"/><circle cx="189.60" cy="1330.80" r="4.9"/><circle cx="203.91" cy="1330.80" r="4.9"/><circle cx="218.22" cy="1330.80" r="4.9"/><circle cx="232.53" cy="1330.80" r="4.9"/><circle cx="246.84" cy="1330.80" r="4.9"/><circle cx="261.15" cy="1303.03" r="4.9"/><circle cx="275.46" cy="1195.48" r="4.9"/><circle cx="289.77" cy="1162.46" r="4.9"/><circle cx="304.08" cy="1127.43" r="4.9"/><circle cx="318.39" cy="1095.34" r="4.9"/><circle cx="332.70" cy="1066.33" r="4.9"/><circle cx="347.01" cy="1043.03" r="4.9"/><circle cx="361.32" cy="1022.82" r="4.9"/><circle cx="375.63" cy="1009.24" r="4.9"/><circle cx="389.94" cy="1001.06" r="4.9"/><circle cx="404.25" cy="999.21" r="4.9"/><circle cx="418.56" cy="1001.06" r="4.9"/><circle cx="432.87" cy="1009.24" r="4.9"/><circle cx="447.18" cy="1022.82" r="4.9"/><circle cx="461.49" cy="1043.03" r="4.9"/><circle cx="475.80" cy="1066.33" r="4.9"/><circle cx="490.11" cy="1095.34" r="4.9"/><circle cx="504.42" cy="1127.43" r="4.9"/><circle cx="518.73" cy="1162.46" r="4.9"/><circle cx="533.04" cy="1195.48" r="4.9"/><circle cx="547.35" cy="1303.03" r="4.9"/><circle cx="561.66" cy="1330.80" r="4.9"/><circle cx="575.97" cy="1330.80" r="4.9"/><circle cx="590.28" cy="1330.80" r="4.9"/><circle cx="604.59" cy="1330.80" r="4.9"/><circle cx="618.90" cy="1330.80" r="4.9"/><circle cx="633.21" cy="1330.80" r="4.9"/><circle cx="647.52" cy="1330.80" r="4.9"/><circle cx="661.83" cy="1330.80" r="4.9"/><circle cx="676.14" cy="1330.80" r="4.9"/></g>
<polyline points="132.36,1330.80 146.67,1330.80 160.98,1330.80 175.29,1330.80 189.60,1330.80 203.91,1330.80 218.22,1330.80 232.53,1330.80 246.84,1330.80 261.15,1330.80 275.46,1330.80 289.77,1330.80 304.08,1330.80 318.39,1330.80 332.70,1304.72 347.01,1116.94 361.32,1060.78 375.63,1046.58 389.94,1038.56 404.25,1035.32 418.56,1038.56 432.87,1046.27 447.18,1060.78 461.49,1080.83 475.80,1103.82 490.11,1311.67 504.42,1330.80 518.73,1330.80 533.04,1330.80 547.35,1330.80 561.66,1330.80 575.97,1330.80 590.28,1330.80 604.59,1330.80 618.90,1330.80 633.21,1330.80 647.52,1330.80 661.83,1330.80 676.14,1330.80" fill="none" stroke="#008000" stroke-width="1.6" stroke-linejoin="round"/>
<g fill="none" stroke="#008000" stroke-width="2.4"><circle cx="132.36" cy="1330.80" r="4.9"/><circle cx="146.67" cy="1330.80" r="4.9"/><circle cx="160.98" cy="1330.80" r="4.9"/><circle cx="175.29" cy="1330.80" r="4.9"/><circle cx="189.60" cy="1330.80" r="4.9"/><circle cx="203.91" cy="1330.80" r="4.9"/><circle cx="218.22" cy="1330.80" r="4.9"/><circle cx="232.53" cy="1330.80" r="4.9"/><circle cx="246.84" cy="1330.80" r="4.9"/><circle cx="261.15" cy="1330.80" r="4.9"/><circle cx="275.46" cy="1330.80" r="4.9"/><circle cx="289.77" cy="1330.80" r="4.9"/><circle cx="304.08" cy="1330.80" r="4.9"/><circle cx="318.39" cy="1330.80" r="4.9"/><circle cx="332.70" cy="1304.72" r="4.9"/><circle cx="347.01" cy="1116.94" r="4.9"/><circle cx="361.32" cy="1060.78" r="4.9"/><circle cx="375.63" cy="1046.58" r="4.9"/><circle cx="389.94" cy="1038.56" r="4.9"/><circle cx="404.25" cy="1035.32" r="4.9"/><circle cx="418.56" cy="1038.56" r="4.9"/><circle cx="432.87" cy="1046.27" r="4.9"/><circle cx="447.18" cy="1060.78" r="4.9"/><circle cx="461.49" cy="1080.83" r="4.9"/><circle cx="475.80" cy="1103.82" r="4.9"/><circle cx="490.11" cy="1311.67" r="4.9"/><circle cx="504.42" cy="1330.80" r="4.9"/><circle cx="518.73" cy="1330.80" r="4.9"/><circle cx="533.04" cy="1330.80" r="4.9"/><circle cx="547.35" cy="1330.80" r="4.9"/><circle cx="561.66" cy="1330.80" r="4.9"/><circle cx="575.97" cy="1330.80" r="4.9"/><circle cx="590.28" cy="1330.80" r="4.9"/><circle cx="604.59" cy="1330.80" r="4.9"/><circle cx="618.90" cy="1330.80" r="4.9"/><circle cx="633.21" cy="1330.80" r="4.9"/><circle cx="647.52" cy="1330.80" r="4.9"/><circle cx="661.83" cy="1330.80" r="4.9"/><circle cx="676.14" cy="1330.80" r="4.9"/></g>
<polyline points="132.36,1330.80 146.67,1330.80 160.98,1330.80 175.29,1330.80 189.60,1330.80 203.91,1330.80 218.22,1330.80 232.53,1330.80 246.84,1330.80 261.15,1330.80 275.46,1330.80 289.77,1330.80 304.08,1330.80 318.39,1330.80 332.70,1330.80 347.01,1330.80 361.32,1330.80 375.63,1330.80 389.94,1330.80 404.25,1330.80 418.56,1330.80 432.87,1330.80 447.18,1330.80 461.49,1330.80 475.80,1330.80 490.11,1330.80 504.42,1330.80 518.73,1330.80 533.04,1330.80 547.35,1330.80 561.66,1330.80 575.97,1330.80 590.28,1330.80 604.59,1330.80 618.90,1330.80 633.21,1330.80 647.52,1330.80 661.83,1330.80 676.14,1330.80" fill="none" stroke="#800000" stroke-width="1.6" stroke-linejoin="round"/>
<g fill="none" stroke="#800000" stroke-width="2.4"><circle cx="132.36" cy="1330.80" r="4.9"/><circle cx="146.67" cy="1330.80" r="4.9"/><circle cx="160.98" cy="1330.80" r="4.9"/><circle cx="175.29" cy="1330.80" r="4.9"/><circle cx="189.60" cy="1330.80" r="4.9"/><circle cx="203.91" cy="1330.80" r="4.9"/><circle cx="218.22" cy="1330.80" r="4.9"/><circle cx="232.53" cy="1330.80" r="4.9"/><circle cx="246.84" cy="1330.80" r="4.9"/><circle cx="261.15" cy="1330.80" r="4.9"/><circle cx="275.46" cy="1330.80" r="4.9"/><circle cx="289.77" cy="1330.80" r="4.9"/><circle cx="304.08" cy="1330.80" r="4.9"/><circle cx="318.39" cy="1330.80" r="4.9"/><circle cx="332.70" cy="1330.80" r="4.9"/><circle cx="347.01" cy="1330.80" r="4.9"/><circle cx="361.32" cy="1330.80" r="4.9"/><circle cx="375.63" cy="1330.80" r="4.9"/><circle cx="389.94" cy="1330.80" r="4.9"/><circle cx="404.25" cy="1330.80" r="4.9"/><circle cx="418.56" cy="1330.80" r="4.9"/><circle cx="432.87" cy="1330.80" r="4.9"/><circle cx="447.18" cy="1330.80" r="4.9"/><circle cx="461.49" cy="1330.80" r="4.9"/><circle cx="475.80" cy="1330.80" r="4.9"/><circle cx="490.11" cy="1330.80" r="4.9"/><circle cx="504.42" cy="1330.80" r="4.9"/><circle cx="518.73" cy="1330.80" r="4.9"/><circle cx="533.04" cy="1330.80" r="4.9"/><circle cx="547.35" cy="1330.80" r="4.9"/><circle cx="561.66" cy="1330.80" r="4.9"/><circle cx="575.97" cy="1330.80" r="4.9"/><circle cx="590.28" cy="1330.80" r="4.9"/><circle cx="604.59" cy="1330.80" r="4.9"/><circle cx="618.90" cy="1330.80" r="4.9"/><circle cx="633.21" cy="1330.80" r="4.9"/><circle cx="647.52" cy="1330.80" r="4.9"/><circle cx="661.83" cy="1330.80" r="4.9"/><circle cx="676.14" cy="1330.80" r="4.9"/></g>
</g>
<path d="M118.05 1361.66v-8M118.05 945.05v8M129.50 1361.66v-4M129.50 945.05v4M140.95 1361.66v-4M140.95 945.05v4M152.39 1361.66v-4M152.39 945.05v4M163.84 1361.66v-4M163.84 945.05v4M175.29 1361.66v-8M175.29 945.05v8M186.74 1361.66v-4M186.74 945.05v4M198.19 1361.66v-4M198.19 945.05v4M209.63 1361.66v-4M209.63 945.05v4M221.08 1361.66v-4M221.08 945.05v4M232.53 1361.66v-8M232.53 945.05v8M243.98 1361.66v-4M243.98 945.05v4M255.43 1361.66v-4M255.43 945.05v4M266.87 1361.66v-4M266.87 945.05v4M278.32 1361.66v-4M278.32 945.05v4M289.77 1361.66v-8M289.77 945.05v8M301.22 1361.66v-4M301.22 945.05v4M312.67 1361.66v-4M312.67 945.05v4M324.11 1361.66v-4M324.11 945.05v4M335.56 1361.66v-4M335.56 945.05v4M347.01 1361.66v-8M347.01 945.05v8M358.46 1361.66v-4M358.46 945.05v4M369.91 1361.66v-4M369.91 945.05v4M381.35 1361.66v-4M381.35 945.05v4M392.80 1361.66v-4M392.80 945.05v4M404.25 1361.66v-8M404.25 945.05v8M415.70 1361.66v-4M415.70 945.05v4M427.15 1361.66v-4M427.15 945.05v4M438.59 1361.66v-4M438.59 945.05v4M450.04 1361.66v-4M450.04 945.05v4M461.49 1361.66v-8M461.49 945.05v8M472.94 1361.66v-4M472.94 945.05v4M484.39 1361.66v-4M484.39 945.05v4M495.83 1361.66v-4M495.83 945.05v4M507.28 1361.66v-4M507.28 945.05v4M518.73 1361.66v-8M518.73 945.05v8M530.18 1361.66v-4M530.18 945.05v4M541.63 1361.66v-4M541.63 945.05v4M553.07 1361.66v-4M553.07 945.05v4M564.52 1361.66v-4M564.52 945.05v4M575.97 1361.66v-8M575.97 945.05v8M587.42 1361.66v-4M587.42 945.05v4M598.87 1361.66v-4M598.87 945.05v4M610.31 1361.66v-4M610.31 945.05v4M621.76 1361.66v-4M621.76 945.05v4M633.21 1361.66v-8M633.21 945.05v8M644.66 1361.66v-4M644.66 945.05v4M656.11 1361.66v-4M656.11 945.05v4M667.55 1361.66v-4M667.55 945.05v4M679.00 1361.66v-4M679.00 945.05v4M690.45 1361.66v-8M690.45 945.05v8M118.05 1361.66h4M690.45 1361.66h-4M118.05 1346.23h4M690.45 1346.23h-4M118.05 1330.80h8M690.45 1330.80h-8M118.05 1315.37h4M690.45 1315.37h-4M118.05 1299.94h4M690.45 1299.94h-4M118.05 1284.51h4M690.45 1284.51h-4M118.05 1269.08h4M690.45 1269.08h-4M118.05 1253.65h8M690.45 1253.65h-8M118.05 1238.22h4M690.45 1238.22h-4M118.05 1222.79h4M690.45 1222.79h-4M118.05 1207.36h4M690.45 1207.36h-4M118.05 1191.93h4M690.45 1191.93h-4M118.05 1176.50h8M690.45 1176.50h-8M118.05 1161.07h4M690.45 1161.07h-4M118.05 1145.64h4M690.45 1145.64h-4M118.05 1130.21h4M690.45 1130.21h-4M118.05 1114.78h4M690.45 1114.78h-4M118.05 1099.35h8M690.45 1099.35h-8M118.05 1083.92h4M690.45 1083.92h-4M118.05 1068.49h4M690.45 1068.49h-4M118.05 1053.06h4M690.45 1053.06h-4M118.05 1037.63h4M690.45 1037.63h-4M118.05 1022.20h8M690.45 1022.20h-8M118.05 1006.77h4M690.45 1006.77h-4M118.05 991.34h4M690.45 991.34h-4M118.05 975.91h4M690.45 975.91h-4M118.05 960.48h4M690.45 960.48h-4M118.05 945.05h8M690.45 945.05h-8" stroke="#000" stroke-width="1.9" fill="none"/>
<rect x="185.0" y="943.75" width="90.80" height="416.91" fill="rgba(188,188,188,0.384)"/>
<rect x="530.7" y="943.75" width="90.90" height="416.91" fill="rgba(188,188,188,0.384)"/>
<rect x="118.05" y="945.05" width="572.40" height="416.61" fill="none" stroke="#000" stroke-width="2.2"/>
<g clip-path="url(#cc)">
<polyline points="806.55,1329.72 820.83,1329.72 835.11,1329.72 849.39,1329.72 863.67,1329.72 877.95,1329.72 892.23,1329.72 906.51,1329.72 920.79,1329.72 935.07,1315.29 949.35,1299.26 963.63,1283.87 977.91,1268.81 992.19,1255.34 1006.47,1243.16 1020.75,1231.30 1035.03,1218.47 1049.31,1205.65 1063.59,1193.46 1077.87,1181.60 1092.15,1169.42 1106.43,1158.20 1120.71,1146.34 1134.99,1134.15 1149.27,1121.33 1163.55,1109.15 1177.83,1096.00 1192.11,1082.86 1206.39,1070.03 1220.67,1054.97 1234.95,1039.58 1249.23,1024.83 1263.51,1009.12 1277.79,1009.12 1292.07,1009.12 1306.35,1009.12 1320.63,1009.12 1334.91,1009.12 1349.19,1009.12 1363.47,1009.12" fill="none" stroke="#f00" stroke-width="1.6" stroke-linejoin="round"/>
<g fill="none" stroke="#f00" stroke-width="1.9"><rect x="802.30" y="1325.47" width="8.5" height="8.5"/><rect x="816.58" y="1325.47" width="8.5" height="8.5"/><rect x="830.86" y="1325.47" width="8.5" height="8.5"/><rect x="845.14" y="1325.47" width="8.5" height="8.5"/><rect x="859.42" y="1325.47" width="8.5" height="8.5"/><rect x="873.70" y="1325.47" width="8.5" height="8.5"/><rect x="887.98" y="1325.47" width="8.5" height="8.5"/><rect x="902.26" y="1325.47" width="8.5" height="8.5"/><rect x="916.54" y="1325.47" width="8.5" height="8.5"/><rect x="930.82" y="1311.04" width="8.5" height="8.5"/><rect x="945.10" y="1295.01" width="8.5" height="8.5"/><rect x="959.38" y="1279.62" width="8.5" height="8.5"/><rect x="973.66" y="1264.56" width="8.5" height="8.5"/><rect x="987.94" y="1251.09" width="8.5" height="8.5"/><rect x="1002.22" y="1238.91" width="8.5" height="8.5"/><rect x="1016.50" y="1227.05" width="8.5" height="8.5"/><rect x="1030.78" y="1214.22" width="8.5" height="8.5"/><rect x="1045.06" y="1201.40" width="8.5" height="8.5"/><rect x="1059.34" y="1189.21" width="8.5" height="8.5"/><rect x="1073.62" y="1177.35" width="8.5" height="8.5"/><rect x="1087.90" y="1165.17" width="8.5" height="8.5"/><rect x="1102.18" y="1153.95" width="8.5" height="8.5"/><rect x="1116.46" y="1142.09" width="8.5" height="8.5"/><rect x="1130.74" y="1129.90" width="8.5" height="8.5"/><rect x="1145.02" y="1117.08" width="8.5" height="8.5"/><rect x="1159.30" y="1104.90" width="8.5" height="8.5"/><rect x="1173.58" y="1091.75" width="8.5" height="8.5"/><rect x="1187.86" y="1078.61" width="8.5" height="8.5"/><rect x="1202.14" y="1065.78" width="8.5" height="8.5"/><rect x="1216.42" y="1050.72" width="8.5" height="8.5"/><rect x="1230.70" y="1035.33" width="8.5" height="8.5"/><rect x="1244.98" y="1020.58" width="8.5" height="8.5"/><rect x="1259.26" y="1004.87" width="8.5" height="8.5"/><rect x="1273.54" y="1004.87" width="8.5" height="8.5"/><rect x="1287.82" y="1004.87" width="8.5" height="8.5"/><rect x="1302.10" y="1004.87" width="8.5" height="8.5"/><rect x="1316.38" y="1004.87" width="8.5" height="8.5"/><rect x="1330.66" y="1004.87" width="8.5" height="8.5"/><rect x="1344.94" y="1004.87" width="8.5" height="8.5"/><rect x="1359.22" y="1004.87" width="8.5" height="8.5"/></g>
<polyline points="806.55,1330.68 820.83,1330.20 835.11,1329.72 849.39,1329.40 863.67,1329.08 877.95,1328.76 892.23,1328.12 906.51,1325.55 920.79,1322.35 935.07,1317.86 949.35,1308.88 963.63,1291.25 977.91,1276.18 992.19,1262.39 1006.47,1249.57 1020.75,1235.78 1035.03,1222.00 1049.31,1207.89 1063.59,1195.07 1077.87,1182.24 1092.15,1169.42 1106.43,1156.28 1120.71,1142.17 1134.99,1127.74 1149.27,1113.32 1163.55,1100.17 1177.83,1087.03 1192.11,1074.20 1206.39,1061.06 1220.67,1050.16 1234.95,1031.24 1249.23,1022.91 1263.51,1018.10 1277.79,1013.93 1292.07,1012.01 1306.35,1010.08 1320.63,1009.12 1334.91,1009.12 1349.19,1009.12 1363.47,1009.12" fill="none" stroke="#00f" stroke-width="1.6" stroke-linejoin="round"/>
<g fill="none" stroke="#00f" stroke-width="1.9"><rect x="802.30" y="1326.43" width="8.5" height="8.5"/><rect x="816.58" y="1325.95" width="8.5" height="8.5"/><rect x="830.86" y="1325.47" width="8.5" height="8.5"/><rect x="845.14" y="1325.15" width="8.5" height="8.5"/><rect x="859.42" y="1324.83" width="8.5" height="8.5"/><rect x="873.70" y="1324.51" width="8.5" height="8.5"/><rect x="887.98" y="1323.87" width="8.5" height="8.5"/><rect x="902.26" y="1321.30" width="8.5" height="8.5"/><rect x="916.54" y="1318.10" width="8.5" height="8.5"/><rect x="930.82" y="1313.61" width="8.5" height="8.5"/><rect x="945.10" y="1304.63" width="8.5" height="8.5"/><rect x="959.38" y="1287.00" width="8.5" height="8.5"/><rect x="973.66" y="1271.93" width="8.5" height="8.5"/><rect x="987.94" y="1258.14" width="8.5" height="8.5"/><rect x="1002.22" y="1245.32" width="8.5" height="8.5"/><rect x="1016.50" y="1231.53" width="8.5" height="8.5"/><rect x="1030.78" y="1217.75" width="8.5" height="8.5"/><rect x="1045.06" y="1203.64" width="8.5" height="8.5"/><rect x="1059.34" y="1190.82" width="8.5" height="8.5"/><rect x="1073.62" y="1177.99" width="8.5" height="8.5"/><rect x="1087.90" y="1165.17" width="8.5" height="8.5"/><rect x="1102.18" y="1152.03" width="8.5" height="8.5"/><rect x="1116.46" y="1137.92" width="8.5" height="8.5"/><rect x="1130.74" y="1123.49" width="8.5" height="8.5"/><rect x="1145.02" y="1109.07" width="8.5" height="8.5"/><rect x="1159.30" y="1095.92" width="8.5" height="8.5"/><rect x="1173.58" y="1082.78" width="8.5" height="8.5"/><rect x="1187.86" y="1069.95" width="8.5" height="8.5"/><rect x="1202.14" y="1056.81" width="8.5" height="8.5"/><rect x="1216.42" y="1045.91" width="8.5" height="8.5"/><rect x="1230.70" y="1026.99" width="8.5" height="8.5"/><rect x="1244.98" y="1018.66" width="8.5" height="8.5"/><rect x="1259.26" y="1013.85" width="8.5" height="8.5"/><rect x="1273.54" y="1009.68" width="8.5" height="8.5"/><rect x="1287.82" y="1007.76" width="8.5" height="8.5"/><rect x="1302.10" y="1005.83" width="8.5" height="8.5"/><rect x="1316.38" y="1004.87" width="8.5" height="8.5"/><rect x="1330.66" y="1004.87" width="8.5" height="8.5"/><rect x="1344.94" y="1004.87" width="8.5" height="8.5"/><rect x="1359.22" y="1004.87" width="8.5" height="8.5"/></g>
<polyline points="806.55,1329.72 820.83,1329.08 835.11,1328.44 849.39,1327.48 863.67,1325.87 877.95,1324.27 892.23,1322.67 906.51,1319.46 920.79,1314.01 935.07,1309.20 949.35,1303.75 963.63,1295.42 977.91,1286.44 992.19,1275.22 1006.47,1263.04 1020.75,1247.97 1035.03,1230.33 1049.31,1214.30 1063.59,1198.27 1077.87,1183.85 1092.15,1169.42 1106.43,1155.63 1120.71,1141.21 1134.99,1127.10 1149.27,1113.32 1163.55,1099.21 1177.83,1077.09 1192.11,1064.26 1206.39,1053.04 1220.67,1043.10 1234.95,1036.05 1249.23,1028.04 1263.51,1024.51 1277.79,1020.02 1292.07,1016.17 1306.35,1013.93 1320.63,1012.33 1334.91,1011.36 1349.19,1010.40 1363.47,1009.76" fill="none" stroke="#008000" stroke-width="1.6" stroke-linejoin="round"/>
<g fill="none" stroke="#008000" stroke-width="1.9"><rect x="802.30" y="1325.47" width="8.5" height="8.5"/><rect x="816.58" y="1324.83" width="8.5" height="8.5"/><rect x="830.86" y="1324.19" width="8.5" height="8.5"/><rect x="845.14" y="1323.23" width="8.5" height="8.5"/><rect x="859.42" y="1321.62" width="8.5" height="8.5"/><rect x="873.70" y="1320.02" width="8.5" height="8.5"/><rect x="887.98" y="1318.42" width="8.5" height="8.5"/><rect x="902.26" y="1315.21" width="8.5" height="8.5"/><rect x="916.54" y="1309.76" width="8.5" height="8.5"/><rect x="930.82" y="1304.95" width="8.5" height="8.5"/><rect x="945.10" y="1299.50" width="8.5" height="8.5"/><rect x="959.38" y="1291.17" width="8.5" height="8.5"/><rect x="973.66" y="1282.19" width="8.5" height="8.5"/><rect x="987.94" y="1270.97" width="8.5" height="8.5"/><rect x="1002.22" y="1258.79" width="8.5" height="8.5"/><rect x="1016.50" y="1243.72" width="8.5" height="8.5"/><rect x="1030.78" y="1226.08" width="8.5" height="8.5"/><rect x="1045.06" y="1210.05" width="8.5" height="8.5"/><rect x="1059.34" y="1194.02" width="8.5" height="8.5"/><rect x="1073.62" y="1179.60" width="8.5" height="8.5"/><rect x="1087.90" y="1165.17" width="8.5" height="8.5"/><rect x="1102.18" y="1151.38" width="8.5" height="8.5"/><rect x="1116.46" y="1136.96" width="8.5" height="8.5"/><rect x="1130.74" y="1122.85" width="8.5" height="8.5"/><rect x="1145.02" y="1109.07" width="8.5" height="8.5"/><rect x="1159.30" y="1094.96" width="8.5" height="8.5"/><rect x="1173.58" y="1072.84" width="8.5" height="8.5"/><rect x="1187.86" y="1060.01" width="8.5" height="8.5"/><rect x="1202.14" y="1048.79" width="8.5" height="8.5"/><rect x="1216.42" y="1038.85" width="8.5" height="8.5"/><rect x="1230.70" y="1031.80" width="8.5" height="8.5"/><rect x="1244.98" y="1023.79" width="8.5" height="8.5"/><rect x="1259.26" y="1020.26" width="8.5" height="8.5"/><rect x="1273.54" y="1015.77" width="8.5" height="8.5"/><rect x="1287.82" y="1011.92" width="8.5" height="8.5"/><rect x="1302.10" y="1009.68" width="8.5" height="8.5"/><rect x="1316.38" y="1008.08" width="8.5" height="8.5"/><rect x="1330.66" y="1007.11" width="8.5" height="8.5"/><rect x="1344.94" y="1006.15" width="8.5" height="8.5"/><rect x="1359.22" y="1005.51" width="8.5" height="8.5"/></g>
<polyline points="806.55,1326.51 820.83,1325.14 835.11,1323.63 849.39,1321.83 863.67,1319.01 877.95,1316.58 892.23,1313.37 906.51,1309.20 920.79,1303.75 935.07,1297.66 949.35,1290.29 963.63,1283.87 977.91,1274.58 992.19,1264.00 1006.47,1252.78 1020.75,1239.95 1035.03,1225.53 1049.31,1211.10 1063.59,1196.67 1077.87,1182.89 1092.15,1169.42 1106.43,1155.95 1120.71,1141.53 1134.99,1127.10 1149.27,1112.35 1163.55,1099.21 1177.83,1087.03 1192.11,1075.16 1206.39,1066.19 1220.67,1057.21 1234.95,1048.23 1249.23,1041.18 1263.51,1035.41 1277.79,1031.24 1292.07,1026.43 1306.35,1023.23 1320.63,1020.34 1334.91,1018.10 1349.19,1017.13 1363.47,1015.21" fill="none" stroke="#800000" stroke-width="1.6" stroke-linejoin="round"/>
<g fill="none" stroke="#800000" stroke-width="1.9"><rect x="802.30" y="1322.26" width="8.5" height="8.5"/><rect x="816.58" y="1320.89" width="8.5" height="8.5"/><rect x="830.86" y="1319.38" width="8.5" height="8.5"/><rect x="845.14" y="1317.58" width="8.5" height="8.5"/><rect x="859.42" y="1314.76" width="8.5" height="8.5"/><rect x="873.70" y="1312.33" width="8.5" height="8.5"/><rect x="887.98" y="1309.12" width="8.5" height="8.5"/><rect x="902.26" y="1304.95" width="8.5" height="8.5"/><rect x="916.54" y="1299.50" width="8.5" height="8.5"/><rect x="930.82" y="1293.41" width="8.5" height="8.5"/><rect x="945.10" y="1286.04" width="8.5" height="8.5"/><rect x="959.38" y="1279.62" width="8.5" height="8.5"/><rect x="973.66" y="1270.33" width="8.5" height="8.5"/><rect x="987.94" y="1259.75" width="8.5" height="8.5"/><rect x="1002.22" y="1248.53" width="8.5" height="8.5"/><rect x="1016.50" y="1235.70" width="8.5" height="8.5"/><rect x="1030.78" y="1221.28" width="8.5" height="8.5"/><rect x="1045.06" y="1206.85" width="8.5" height="8.5"/><rect x="1059.34" y="1192.42" width="8.5" height="8.5"/><rect x="1073.62" y="1178.64" width="8.5" height="8.5"/><rect x="1087.90" y="1165.17" width="8.5" height="8.5"/><rect x="1102.18" y="1151.70" width="8.5" height="8.5"/><rect x="1116.46" y="1137.28" width="8.5" height="8.5"/><rect x="1130.74" y="1122.85" width="8.5" height="8.5"/><rect x="1145.02" y="1108.10" width="8.5" height="8.5"/><rect x="1159.30" y="1094.96" width="8.5" height="8.5"/><rect x="1173.58" y="1082.78" width="8.5" height="8.5"/><rect x="1187.86" y="1070.91" width="8.5" height="8.5"/><rect x="1202.14" y="1061.94" width="8.5" height="8.5"/><rect x="1216.42" y="1052.96" width="8.5" height="8.5"/><rect x="1230.70" y="1043.98" width="8.5" height="8.5"/><rect x="1244.98" y="1036.93" width="8.5" height="8.5"/><rect x="1259.26" y="1031.16" width="8.5" height="8.5"/><rect x="1273.54" y="1026.99" width="8.5" height="8.5"/><rect x="1287.82" y="1022.18" width="8.5" height="8.5"/><rect x="1302.10" y="1018.98" width="8.5" height="8.5"/><rect x="1316.38" y="1016.09" width="8.5" height="8.5"/><rect x="1330.66" y="1013.85" width="8.5" height="8.5"/><rect x="1344.94" y="1012.88" width="8.5" height="8.5"/><rect x="1359.22" y="1010.96" width="8.5" height="8.5"/></g>
</g>
<path d="M806.55 1361.78v-8M806.55 945.00v8M817.97 1361.78v-4M817.97 945.00v4M829.40 1361.78v-4M829.40 945.00v4M840.82 1361.78v-4M840.82 945.00v4M852.25 1361.78v-4M852.25 945.00v4M863.67 1361.78v-8M863.67 945.00v8M875.09 1361.78v-4M875.09 945.00v4M886.52 1361.78v-4M886.52 945.00v4M897.94 1361.78v-4M897.94 945.00v4M909.37 1361.78v-4M909.37 945.00v4M920.79 1361.78v-8M920.79 945.00v8M932.21 1361.78v-4M932.21 945.00v4M943.64 1361.78v-4M943.64 945.00v4M955.06 1361.78v-4M955.06 945.00v4M966.49 1361.78v-4M966.49 945.00v4M977.91 1361.78v-8M977.91 945.00v8M989.33 1361.78v-4M989.33 945.00v4M1000.76 1361.78v-4M1000.76 945.00v4M1012.18 1361.78v-4M1012.18 945.00v4M1023.61 1361.78v-4M1023.61 945.00v4M1035.03 1361.78v-8M1035.03 945.00v8M1046.45 1361.78v-4M1046.45 945.00v4M1057.88 1361.78v-4M1057.88 945.00v4M1069.30 1361.78v-4M1069.30 945.00v4M1080.73 1361.78v-4M1080.73 945.00v4M1092.15 1361.78v-8M1092.15 945.00v8M1103.57 1361.78v-4M1103.57 945.00v4M1115.00 1361.78v-4M1115.00 945.00v4M1126.42 1361.78v-4M1126.42 945.00v4M1137.85 1361.78v-4M1137.85 945.00v4M1149.27 1361.78v-8M1149.27 945.00v8M1160.69 1361.78v-4M1160.69 945.00v4M1172.12 1361.78v-4M1172.12 945.00v4M1183.54 1361.78v-4M1183.54 945.00v4M1194.97 1361.78v-4M1194.97 945.00v4M1206.39 1361.78v-8M1206.39 945.00v8M1217.81 1361.78v-4M1217.81 945.00v4M1229.24 1361.78v-4M1229.24 945.00v4M1240.66 1361.78v-4M1240.66 945.00v4M1252.09 1361.78v-4M1252.09 945.00v4M1263.51 1361.78v-8M1263.51 945.00v8M1274.93 1361.78v-4M1274.93 945.00v4M1286.36 1361.78v-4M1286.36 945.00v4M1297.78 1361.78v-4M1297.78 945.00v4M1309.21 1361.78v-4M1309.21 945.00v4M1320.63 1361.78v-8M1320.63 945.00v8M1332.05 1361.78v-4M1332.05 945.00v4M1343.48 1361.78v-4M1343.48 945.00v4M1354.90 1361.78v-4M1354.90 945.00v4M1366.33 1361.78v-4M1366.33 945.00v4M1377.75 1361.78v-8M1377.75 945.00v8M806.55 1355.37h4M1377.75 1355.37h-4M806.55 1342.54h4M1377.75 1342.54h-4M806.55 1329.72h8M1377.75 1329.72h-8M806.55 1316.90h4M1377.75 1316.90h-4M806.55 1304.07h4M1377.75 1304.07h-4M806.55 1291.25h4M1377.75 1291.25h-4M806.55 1278.42h4M1377.75 1278.42h-4M806.55 1265.60h8M1377.75 1265.60h-8M806.55 1252.78h4M1377.75 1252.78h-4M806.55 1239.95h4M1377.75 1239.95h-4M806.55 1227.13h4M1377.75 1227.13h-4M806.55 1214.30h4M1377.75 1214.30h-4M806.55 1201.48h8M1377.75 1201.48h-8M806.55 1188.66h4M1377.75 1188.66h-4M806.55 1175.83h4M1377.75 1175.83h-4M806.55 1163.01h4M1377.75 1163.01h-4M806.55 1150.18h4M1377.75 1150.18h-4M806.55 1137.36h8M1377.75 1137.36h-8M806.55 1124.54h4M1377.75 1124.54h-4M806.55 1111.71h4M1377.75 1111.71h-4M806.55 1098.89h4M1377.75 1098.89h-4M806.55 1086.06h4M1377.75 1086.06h-4M806.55 1073.24h8M1377.75 1073.24h-8M806.55 1060.42h4M1377.75 1060.42h-4M806.55 1047.59h4M1377.75 1047.59h-4M806.55 1034.77h4M1377.75 1034.77h-4M806.55 1021.94h4M1377.75 1021.94h-4M806.55 1009.12h8M1377.75 1009.12h-8M806.55 996.30h4M1377.75 996.30h-4M806.55 983.47h4M1377.75 983.47h-4M806.55 970.65h4M1377.75 970.65h-4M806.55 957.82h4M1377.75 957.82h-4M806.55 945.00h8M1377.75 945.00h-8" stroke="#000" stroke-width="1.9" fill="none"/>
<rect x="873.8" y="943.70" width="91.10" height="417.08" fill="rgba(188,188,188,0.384)"/>
<rect x="1217.0" y="943.70" width="90.90" height="417.08" fill="rgba(188,188,188,0.384)"/>
<rect x="806.55" y="945.00" width="571.20" height="416.78" fill="none" stroke="#000" stroke-width="2.2"/>
<rect x="636.9" y="976.1" width="1.2" height="2.7" fill="#c8c8c8"/>
<text transform="translate(85.47,779.63) scale(1.1553,1)" font-size="36.18" fill="#000">0</text>
<text transform="translate(54.13,605.96) scale(1.1553,1)" font-size="36.18" fill="#000">0.5</text>
<text transform="translate(86.31,432.28) scale(1.1553,1)" font-size="36.18" fill="#000">1</text>
<text transform="translate(54.13,258.61) scale(1.1553,1)" font-size="36.18" fill="#000">1.5</text>
<text transform="translate(86.10,84.93) scale(1.1553,1)" font-size="36.18" fill="#000">2</text>
<text transform="translate(153.12,846.25) scale(1.1638,1)" font-size="36.47" fill="#000">−0.2</text>
<text transform="translate(328.79,846.25) scale(1.1638,1)" font-size="36.47" fill="#000">0</text>
<text transform="translate(461.06,846.25) scale(1.1638,1)" font-size="36.47" fill="#000">0.2</text>
<text transform="translate(608.08,846.25) scale(1.1638,1)" font-size="36.47" fill="#000">0.4</text>
<text transform="translate(756.27,846.25) scale(1.1638,1)" font-size="36.47" fill="#000">0.6</text>
<text transform="translate(904.35,846.25) scale(1.1638,1)" font-size="36.47" fill="#000">0.8</text>
<text transform="translate(1067.50,846.25) scale(1.1638,1)" font-size="36.47" fill="#000">1</text>
<text transform="translate(1199.35,846.25) scale(1.1638,1)" font-size="36.47" fill="#000">1.2</text>
<text transform="translate(1346.37,846.25) scale(1.1638,1)" font-size="36.47" fill="#000">1.4</text>
<text transform="translate(130.67,48.88) scale(1.0034,1)" font-size="40.55" fill="#000">(a)</text>
<path transform="translate(744.633,867.536) scale(0.03481,0.03446)" d="M235 205L405 205L405 740C405 840 450 895 540 895C620 895 700 850 760 800L760 205L925 205L925 800C925 880 950 915 990 915C1040 915 1075 870 1090 815L1125 820C1110 920 1050 1005 960 1005C880 1005 790 960 770 860C700 930 600 1000 470 1000C400 1000 350 985 320 960C330 1050 360 1150 375 1250C385 1320 340 1360 280 1360C220 1360 180 1320 180 1260C180 1180 220 1080 235 960Z" fill="#000"/>
<text transform="translate(29.07,459.54) scale(1.0949,1) rotate(-90)" font-size="57.47" fill="#000">ρ</text>
<text transform="translate(37.28,431.97) scale(1.2274,1) rotate(-90)" font-size="34.29" fill="#000">s</text>
<text transform="translate(29.49,418.13) scale(1.0662,1) rotate(-90)" font-size="60.69" fill="#000">,</text>
<text transform="translate(29.21,392.54) scale(1.0999,1) rotate(-90)" font-size="57.47" fill="#000">ρ</text>
<text transform="translate(36.78,364.42) scale(1.1860,1) rotate(-90)" font-size="35.48" fill="#000">0</text>
<text transform="translate(293.02,264.25) scale(1.1909,1)" font-size="55.37" fill="#808080">NG</text>
<text transform="translate(922.22,262.55) scale(1.1896,1)" font-size="55.37" fill="#808080">NG</text>
<text transform="translate(1134.23,260.95) scale(1.1921,1)" font-size="55.07" fill="#808080">NG</text>
<text transform="translate(126.97,742.90) scale(1.1700,1)" font-size="55.11" fill="#00f">MI</text>
<text transform="translate(682.97,401.30) scale(1.1667,1)" font-size="55.27" fill="#00f">MI</text>
<text transform="translate(1263.76,744.60) scale(1.1812,1)" font-size="54.81" fill="#00f">MI</text>
<text transform="translate(1041.87,746.64) scale(1.1339,1)" font-size="55.97" fill="#f00">SF</text>
<text transform="translate(539.29,89.14) scale(1.0965,1)" font-size="37.65" fill="#000">t/U=0.01</text>
<path d="M539.1 116.90H625.1" stroke="#f00" stroke-width="2.4"/>
<ellipse cx="581.1" cy="116.90" rx="8.0" ry="6.85" fill="#f00" stroke="#000" stroke-width="2.1"/>
<path d="M539.1 157.90H625.1" stroke="#f00" stroke-width="2.4"/>
<rect x="574.85" y="152.50" width="14.9" height="12.2" fill="#f00" stroke="#000" stroke-width="2.1"/>
<path d="M539.1 198.60H625.1" stroke="#00f" stroke-width="2.4"/>
<ellipse cx="581.1" cy="198.60" rx="8.0" ry="6.85" fill="#00f" stroke="#000" stroke-width="2.1"/>
<path d="M539.1 239.80H625.1" stroke="#00f" stroke-width="2.4"/>
<rect x="574.85" y="234.40" width="14.9" height="12.2" fill="#00f" stroke="#000" stroke-width="2.1"/>
<text transform="translate(634.09,129.22) scale(1.2797,1)" font-size="36.20" fill="#000">ρ</text>
<text transform="translate(656.60,133.85) scale(1.1140,1)" font-size="24.79" fill="#000">s</text>
<text transform="translate(677.41,129.33) scale(1.1625,1)" font-size="36.15" fill="#000">(T/t=0)</text>
<text transform="translate(634.09,170.12) scale(1.2797,1)" font-size="36.20" fill="#000">ρ</text>
<text transform="translate(656.27,174.45) scale(1.1452,1)" font-size="24.74" fill="#000">0</text>
<text transform="translate(680.30,170.00) scale(1.1782,1)" font-size="35.82" fill="#000">(T/t=0)</text>
<text transform="translate(634.09,211.02) scale(1.2797,1)" font-size="36.20" fill="#000">ρ</text>
<text transform="translate(656.60,215.65) scale(1.1140,1)" font-size="24.79" fill="#000">s</text>
<text transform="translate(677.40,211.13) scale(1.1670,1)" font-size="36.15" fill="#000">(T/t=0.07)</text>
<text transform="translate(634.09,252.22) scale(1.2797,1)" font-size="36.20" fill="#000">ρ</text>
<text transform="translate(656.27,256.55) scale(1.1452,1)" font-size="24.74" fill="#000">0</text>
<text transform="translate(680.30,252.10) scale(1.1757,1)" font-size="35.82" fill="#000">(T/t=0.07)</text>
<text transform="translate(61.96,1340.40) scale(0.9494,1)" font-size="30.15" fill="#000">0.00</text>
<text transform="translate(61.96,1263.25) scale(0.9494,1)" font-size="30.15" fill="#000">0.05</text>
<text transform="translate(61.96,1186.10) scale(0.9494,1)" font-size="30.15" fill="#000">0.10</text>
<text transform="translate(61.96,1108.95) scale(0.9494,1)" font-size="30.15" fill="#000">0.15</text>
<text transform="translate(61.96,1031.80) scale(0.9494,1)" font-size="30.15" fill="#000">0.20</text>
<text transform="translate(61.96,954.65) scale(0.9494,1)" font-size="30.15" fill="#000">0.25</text>
<text transform="translate(94.54,1394.81) scale(1.0575,1)" font-size="28.59" fill="#000">−10</text>
<text transform="translate(159.34,1394.81) scale(1.0575,1)" font-size="28.59" fill="#000">−8</text>
<text transform="translate(216.43,1394.81) scale(1.0575,1)" font-size="28.59" fill="#000">−6</text>
<text transform="translate(273.44,1394.81) scale(1.0575,1)" font-size="28.59" fill="#000">−4</text>
<text transform="translate(331.28,1394.81) scale(1.0575,1)" font-size="28.59" fill="#000">−2</text>
<text transform="translate(396.99,1394.81) scale(1.0575,1)" font-size="28.59" fill="#000">0</text>
<text transform="translate(454.38,1394.81) scale(1.0575,1)" font-size="28.59" fill="#000">2</text>
<text transform="translate(511.40,1394.81) scale(1.0575,1)" font-size="28.59" fill="#000">4</text>
<text transform="translate(568.48,1394.81) scale(1.0575,1)" font-size="28.59" fill="#000">6</text>
<text transform="translate(625.95,1394.81) scale(1.0575,1)" font-size="28.59" fill="#000">8</text>
<text transform="translate(674.88,1394.81) scale(1.0575,1)" font-size="28.59" fill="#000">10</text>
<text transform="translate(130.48,992.18) scale(1.0065,1)" font-size="40.11" fill="#000">(b)</text>
<text transform="translate(201.27,1081.40) scale(1.0234,1)" font-size="40.15" fill="#808080">NG</text>
<text transform="translate(550.76,1080.88) scale(0.9831,1)" font-size="42.09" fill="#808080">NG</text>
<text transform="translate(129.67,1232.50) scale(0.9913,1)" font-size="41.22" fill="#00f">MI</text>
<text transform="translate(627.86,1230.60) scale(0.9835,1)" font-size="41.98" fill="#00f">MI</text>
<text transform="translate(388.32,1313.67) scale(0.9483,1)" font-size="43.43" fill="#f00">SF</text>
<path transform="translate(388.548,1420.837) scale(0.02085,0.02372)" d="M235 205L405 205L405 740C405 840 450 895 540 895C620 895 700 850 760 800L760 205L925 205L925 800C925 880 950 915 990 915C1040 915 1075 870 1090 815L1125 820C1110 920 1050 1005 960 1005C880 1005 790 960 770 860C700 930 600 1000 470 1000C400 1000 350 985 320 960C330 1050 360 1150 375 1250C385 1320 340 1360 280 1360C220 1360 180 1320 180 1260C180 1180 220 1080 235 960Z" fill="#000"/>
<text transform="translate(45.68,1162.21) scale(0.9345,1) rotate(-90)" font-size="49.37" fill="#000">ρ</text>
<text transform="translate(51.47,1137.88) scale(1.1149,1) rotate(-90)" font-size="29.52" fill="#000">s</text>
<path d="M359.2 1128.1H408.8" stroke="#f00" stroke-width="1.8"/>
<circle cx="382.6" cy="1128.1" r="5.1" fill="none" stroke="#f00" stroke-width="2.4"/>
<text transform="translate(414.42,1138.41) scale(1.0083,1)" font-size="28.74" fill="#000">T=0</text>
<path d="M359.2 1161.8H408.8" stroke="#00f" stroke-width="1.8"/>
<circle cx="382.6" cy="1161.8" r="5.1" fill="none" stroke="#00f" stroke-width="2.4"/>
<text transform="translate(414.44,1172.90) scale(0.9305,1)" font-size="29.85" fill="#000">T=1</text>
<path d="M359.2 1195.6H408.8" stroke="#008000" stroke-width="1.8"/>
<circle cx="382.6" cy="1195.6" r="5.1" fill="none" stroke="#008000" stroke-width="2.4"/>
<text transform="translate(414.44,1206.31) scale(0.9540,1)" font-size="29.40" fill="#000">T=3</text>
<path d="M359.2 1229.8H408.8" stroke="#800000" stroke-width="1.8"/>
<circle cx="382.6" cy="1229.8" r="5.1" fill="none" stroke="#800000" stroke-width="2.4"/>
<text transform="translate(414.43,1240.40) scale(0.9512,1)" font-size="30.00" fill="#000">T=4</text>
<text transform="translate(750.02,1339.09) scale(1.0091,1)" font-size="28.38" fill="#000">0.00</text>
<text transform="translate(750.02,1274.97) scale(1.0091,1)" font-size="28.38" fill="#000">0.20</text>
<text transform="translate(750.02,1210.85) scale(1.0091,1)" font-size="28.38" fill="#000">0.40</text>
<text transform="translate(750.02,1146.73) scale(1.0091,1)" font-size="28.38" fill="#000">0.60</text>
<text transform="translate(750.02,1082.61) scale(1.0091,1)" font-size="28.38" fill="#000">0.80</text>
<text transform="translate(750.02,1018.49) scale(1.0091,1)" font-size="28.38" fill="#000">1.00</text>
<text transform="translate(750.02,954.37) scale(1.0091,1)" font-size="28.38" fill="#000">1.20</text>
<text transform="translate(783.04,1394.80) scale(1.0575,1)" font-size="28.59" fill="#000">−10</text>
<text transform="translate(847.72,1394.80) scale(1.0575,1)" font-size="28.59" fill="#000">−8</text>
<text transform="translate(904.69,1394.80) scale(1.0575,1)" font-size="28.59" fill="#000">−6</text>
<text transform="translate(961.58,1394.80) scale(1.0575,1)" font-size="28.59" fill="#000">−4</text>
<text transform="translate(1019.30,1394.80) scale(1.0575,1)" font-size="28.59" fill="#000">−2</text>
<text transform="translate(1084.89,1394.80) scale(1.0575,1)" font-size="28.59" fill="#000">0</text>
<text transform="translate(1142.16,1394.80) scale(1.0575,1)" font-size="28.59" fill="#000">2</text>
<text transform="translate(1199.06,1394.80) scale(1.0575,1)" font-size="28.59" fill="#000">4</text>
<text transform="translate(1256.02,1394.80) scale(1.0575,1)" font-size="28.59" fill="#000">6</text>
<text transform="translate(1313.37,1394.80) scale(1.0575,1)" font-size="28.59" fill="#000">8</text>
<text transform="translate(1362.18,1394.80) scale(1.0575,1)" font-size="28.59" fill="#000">10</text>
<text transform="translate(818.94,992.18) scale(1.0315,1)" font-size="40.11" fill="#000">(c)</text>
<text transform="translate(890.66,1201.48) scale(0.9884,1)" font-size="41.79" fill="#808080">NG</text>
<text transform="translate(1239.15,1199.17) scale(0.9727,1)" font-size="42.69" fill="#999">NG</text>
<text transform="translate(820.04,1258.30) scale(1.0057,1)" font-size="41.83" fill="#00f">MI</text>
<text transform="translate(1318.86,1254.50) scale(0.9597,1)" font-size="43.21" fill="#00f">MI</text>
<text transform="translate(1080.83,1296.16) scale(0.9364,1)" font-size="43.88" fill="#f00">SF</text>
<path transform="translate(1076.190,1420.501) scale(0.02116,0.02390)" d="M235 205L405 205L405 740C405 840 450 895 540 895C620 895 700 850 760 800L760 205L925 205L925 800C925 880 950 915 990 915C1040 915 1075 870 1090 815L1125 820C1110 920 1050 1005 960 1005C880 1005 790 960 770 860C700 930 600 1000 470 1000C400 1000 350 985 320 960C330 1050 360 1150 375 1250C385 1320 340 1360 280 1360C220 1360 180 1320 180 1260C180 1180 220 1080 235 960Z" fill="#000"/>
<text transform="translate(734.24,1163.78) scale(0.9292,1) rotate(-90)" font-size="48.86" fill="#000">ρ</text>
<text transform="translate(739.40,1139.92) scale(0.9819,1) rotate(-90)" font-size="30.48" fill="#000">0</text>
<path d="M1035.0 970.2H1080.1" stroke="#f00" stroke-width="1.8"/>
<rect x="1053.15" y="966.90" width="8.9" height="8.2" fill="none" stroke="#f00" stroke-width="2.2"/>
<text transform="translate(1086.33,981.00) scale(0.9601,1)" font-size="29.93" fill="#000">T=0</text>
<path d="M1035.0 1004.2H1080.1" stroke="#00f" stroke-width="1.8"/>
<rect x="1053.15" y="1000.90" width="8.9" height="8.2" fill="none" stroke="#00f" stroke-width="2.2"/>
<text transform="translate(1086.34,1015.10) scale(0.9166,1)" font-size="30.30" fill="#000">T=1</text>
<path d="M1035.0 1037.9H1080.1" stroke="#008000" stroke-width="1.8"/>
<rect x="1053.15" y="1034.60" width="8.9" height="8.2" fill="none" stroke="#008000" stroke-width="2.2"/>
<text transform="translate(1086.34,1049.00) scale(0.9258,1)" font-size="30.30" fill="#000">T=3</text>
<path d="M1035.0 1071.9H1080.1" stroke="#800000" stroke-width="1.8"/>
<rect x="1053.15" y="1068.60" width="8.9" height="8.2" fill="none" stroke="#800000" stroke-width="2.2"/>
<text transform="translate(1086.33,1083.00) scale(0.9244,1)" font-size="30.61" fill="#000">T=4</text>
</svg></body></html>
